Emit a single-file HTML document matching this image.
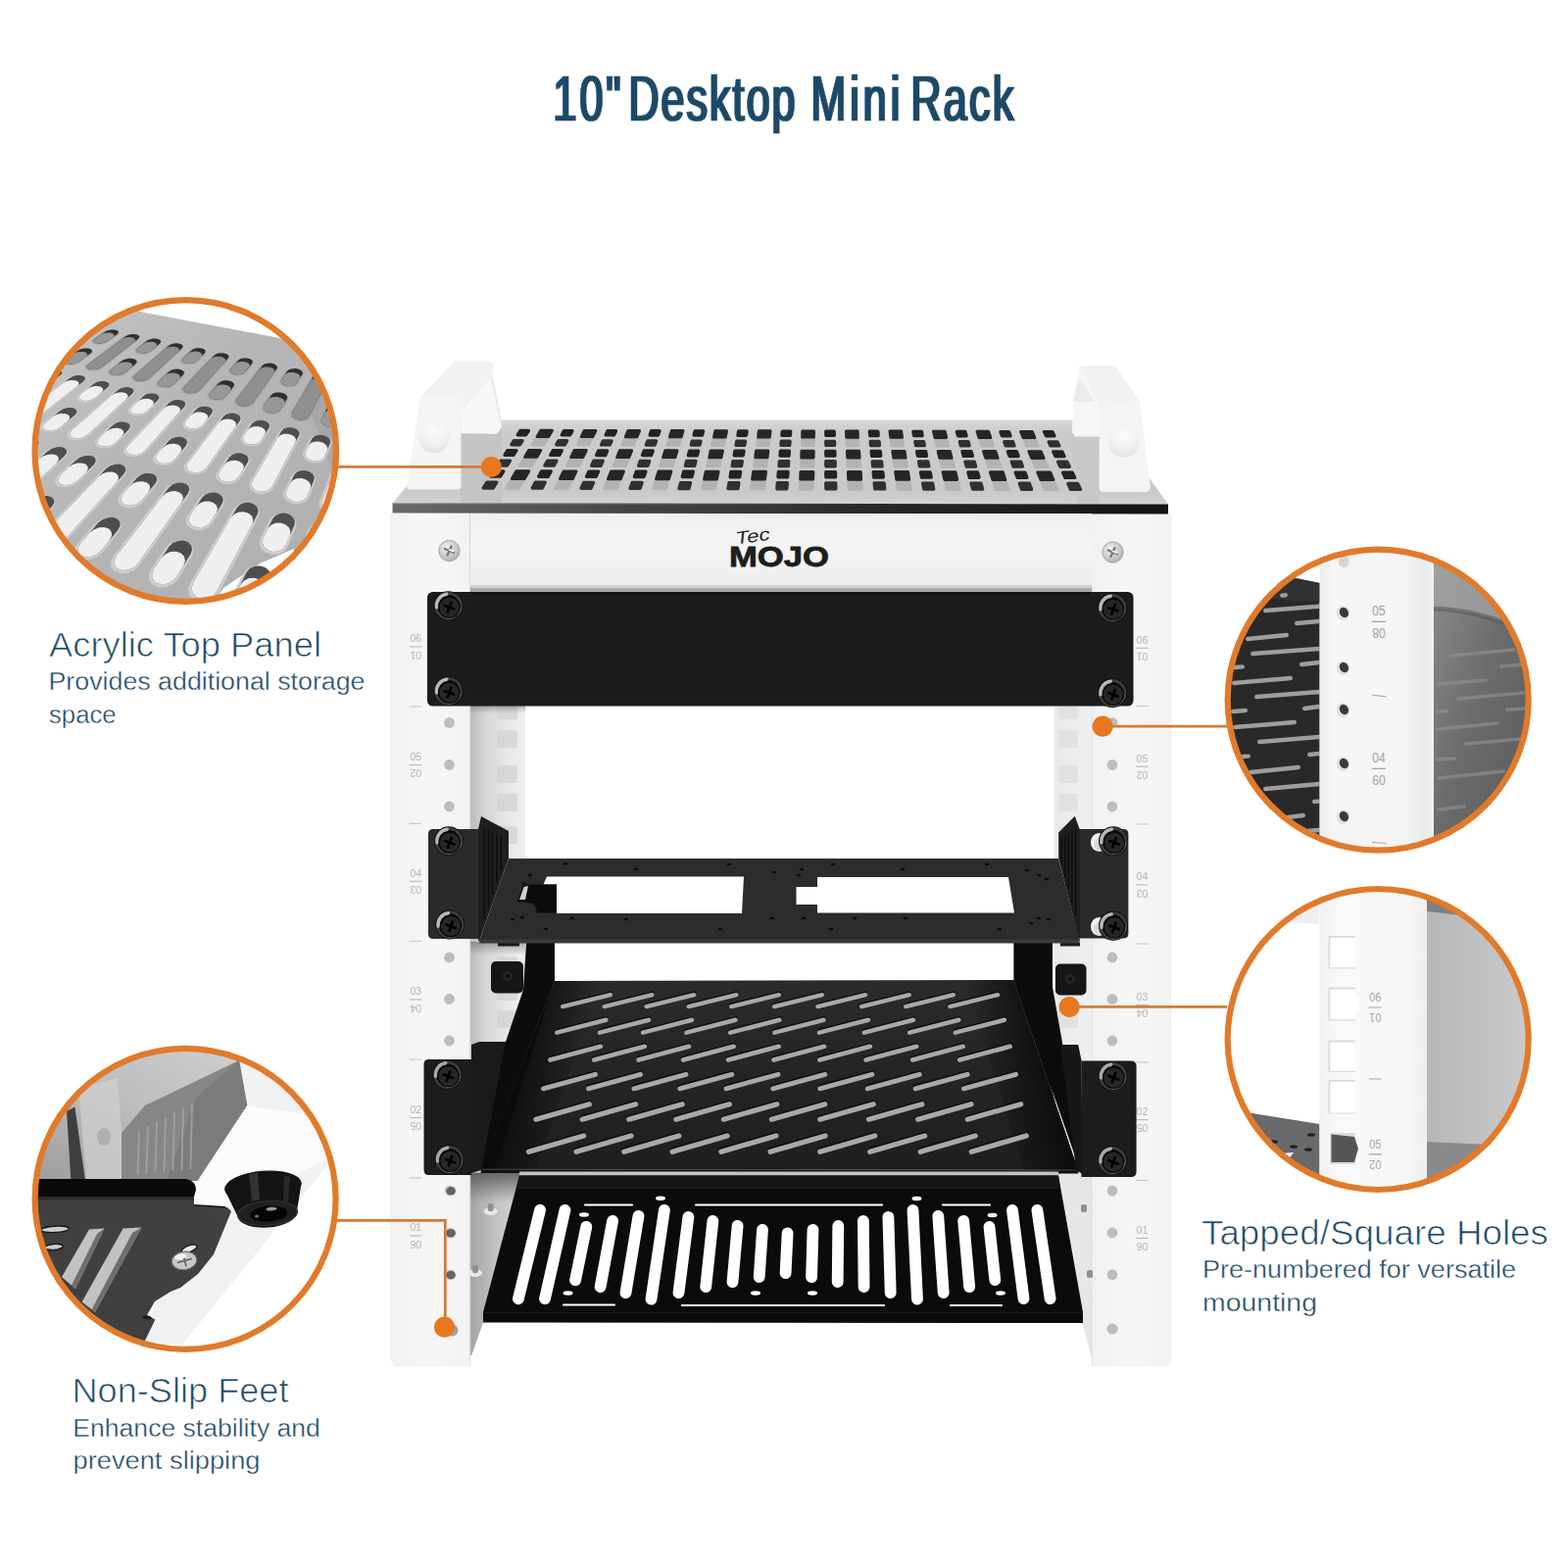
<!DOCTYPE html>
<html lang="en"><head><meta charset="utf-8"><title>10" Desktop Mini Rack</title>
<style>
html,body{margin:0;padding:0;background:#fff;}
body{width:1600px;height:1600px;overflow:hidden;font-family:"Liberation Sans",sans-serif;}
svg{display:block;}
</style></head><body>
<svg width="1600" height="1600" viewBox="0 0 1600 1600">
<rect width="1600" height="1600" fill="#ffffff"/>
<defs>
<linearGradient id="gEdge" x1="0" x2="1" y1="0" y2="0"><stop offset="0" stop-color="#6a6a6a"/><stop offset=".3" stop-color="#454545"/><stop offset=".6" stop-color="#2a2a2a"/><stop offset="1" stop-color="#141414"/></linearGradient>
<linearGradient id="gTop" x1="0" x2="0" y1="0" y2="1"><stop offset="0" stop-color="#d8d8d8"/><stop offset=".15" stop-color="#cbcbcb"/><stop offset=".85" stop-color="#c9c9c9"/><stop offset="1" stop-color="#d2d2d2"/></linearGradient>
<linearGradient id="gInL" x1="0" x2="1" y1="0" y2="0"><stop offset="0" stop-color="#b9b9b9"/><stop offset=".3" stop-color="#d6d6d6"/><stop offset=".7" stop-color="#e8e8e8"/><stop offset="1" stop-color="#efefef"/></linearGradient>
<linearGradient id="gInR" x1="0" x2="1" y1="0" y2="0"><stop offset="0" stop-color="#e9e9e9"/><stop offset="1" stop-color="#f0f0f0"/></linearGradient>
<linearGradient id="gInL2" x1="0" x2="1" y1="0" y2="0"><stop offset="0" stop-color="#a2a2a2"/><stop offset=".5" stop-color="#c4c4c4"/><stop offset="1" stop-color="#d8d8d8"/></linearGradient>
<linearGradient id="gShadeV" x1="0" x2="0" y1="0" y2="1"><stop offset="0" stop-color="#4a4a4a" stop-opacity=".75"/><stop offset="1" stop-color="#4a4a4a" stop-opacity="0"/></linearGradient>
<radialGradient id="gSilver" cx=".4" cy=".35" r=".8"><stop offset="0" stop-color="#f4f4f4"/><stop offset=".6" stop-color="#c6c6c6"/><stop offset="1" stop-color="#9a9a9a"/></radialGradient>
<radialGradient id="gDimple" cx=".5" cy=".25" r=".85"><stop offset="0" stop-color="#fbfbfb"/><stop offset=".55" stop-color="#f0f0f0"/><stop offset="1" stop-color="#dcdcdc"/></radialGradient>
<linearGradient id="gPost" x1="0" x2="1" y1="0" y2="0"><stop offset="0" stop-color="#f1f1f1"/><stop offset=".5" stop-color="#f6f6f6"/><stop offset="1" stop-color="#f2f2f2"/></linearGradient>
<linearGradient id="gLogo" x1="0" x2="0" y1="0" y2="1"><stop offset="0" stop-color="#efefef"/><stop offset=".5" stop-color="#f4f4f4"/><stop offset="1" stop-color="#ececec"/></linearGradient>
<linearGradient id="gS2" x1="0" x2="0" y1="0" y2="1"><stop offset="0" stop-color="#2b2b2b"/><stop offset="1" stop-color="#1f1f1f"/></linearGradient>
<linearGradient id="gShL" x1="0" x2="1" y1="0" y2="0"><stop offset="0" stop-color="#0a0a0a"/><stop offset="1" stop-color="#0d0d0d"/></linearGradient>
<linearGradient id="gShR" x1="0" x2="1" y1="0" y2="0"><stop offset="0" stop-color="#0d0d0d"/><stop offset="1" stop-color="#0a0a0a"/></linearGradient>
<linearGradient id="gShR2" gradientUnits="userSpaceOnUse" x1="1000" y1="1100" x2="1075" y2="1085"><stop offset="0" stop-color="#0b0b0b" stop-opacity="0"/><stop offset="1" stop-color="#0b0b0b" stop-opacity=".95"/></linearGradient>
<linearGradient id="gShL2" gradientUnits="userSpaceOnUse" x1="590" y1="1100" x2="525" y2="1085"><stop offset="0" stop-color="#0b0b0b" stop-opacity="0"/><stop offset="1" stop-color="#0b0b0b" stop-opacity=".9"/></linearGradient>
<linearGradient id="gEdgeHi" gradientUnits="userSpaceOnUse" x1="400" y1="0" x2="900" y2="0"><stop offset="0" stop-color="#a8a8a8" stop-opacity=".9"/><stop offset="1" stop-color="#a8a8a8" stop-opacity="0"/></linearGradient>
<linearGradient id="g2r" x1="0" x2="1" y1="0" y2="1"><stop offset="0" stop-color="#8f8f8f"/><stop offset=".45" stop-color="#6c6c6c"/><stop offset="1" stop-color="#565656"/></linearGradient>
<linearGradient id="g2p" x1="0" x2="1" y1="0" y2="0"><stop offset="0" stop-color="#ededed"/><stop offset=".12" stop-color="#f6f6f6"/><stop offset=".78" stop-color="#f4f4f4"/><stop offset=".9" stop-color="#e9e9e9"/><stop offset="1" stop-color="#f1f1f1"/></linearGradient>
<linearGradient id="g3p" x1="0" x2="1" y1="0" y2="0"><stop offset="0" stop-color="#f1f1f1"/><stop offset=".2" stop-color="#f9f9f9"/><stop offset=".85" stop-color="#f6f6f6"/><stop offset="1" stop-color="#eeeeee"/></linearGradient>
<linearGradient id="g3r" x1="0" x2="1" y1="0" y2="0"><stop offset="0" stop-color="#b6b6b6"/><stop offset="1" stop-color="#cdcdcd"/></linearGradient>
<linearGradient id="g4a" x1="0" x2="1" y1="1" y2="0"><stop offset="0" stop-color="#9c9c9c"/><stop offset=".5" stop-color="#bdbdbd"/><stop offset="1" stop-color="#d0d0d0"/></linearGradient>
<linearGradient id="g1p" x1="0" x2="1" y1="0" y2="1"><stop offset="0" stop-color="#c6c6c6"/><stop offset=".4" stop-color="#b6b6b6"/><stop offset="1" stop-color="#adadad"/></linearGradient>
<filter id="fxd" x="-2%" y="-10%" width="104%" height="120%"><feMorphology operator="dilate" radius="1 0"/></filter>
<clipPath id="c1"><circle cx="189.3" cy="460" r="154"/></clipPath>
<clipPath id="c2"><circle cx="1406.2" cy="714.2" r="154"/></clipPath>
<clipPath id="c3"><circle cx="1406.2" cy="1060.5" r="154"/></clipPath>
<clipPath id="c4"><circle cx="189.1" cy="1223.3" r="154"/></clipPath>
</defs>
<g font-family="'Liberation Sans', sans-serif">
<polygon points="479,524 536,524 536,1300 493,1349.5 481,1383 479,1383" fill="url(#gInL)"/>
<polygon points="1115,524 1076,524 1076,1300 1104.5,1349.5 1113,1383 1115,1383" fill="url(#gInR)"/>
<rect x="507" y="716" width="21" height="18" rx="2" fill="#d2d2d2" opacity=".75"/>
<rect x="507" y="745" width="21" height="18" rx="2" fill="#d2d2d2" opacity=".75"/>
<rect x="507" y="781" width="21" height="18" rx="2" fill="#d2d2d2" opacity=".75"/>
<rect x="507" y="810" width="21" height="18" rx="2" fill="#d2d2d2" opacity=".75"/>
<rect x="507" y="843" width="21" height="18" rx="2" fill="#d2d2d2" opacity=".75"/>
<rect x="507" y="976" width="21" height="18" rx="2" fill="#d2d2d2" opacity=".75"/>
<rect x="507" y="1003" width="21" height="18" rx="2" fill="#d2d2d2" opacity=".75"/>
<rect x="507" y="1031" width="21" height="18" rx="2" fill="#d2d2d2" opacity=".75"/>
<rect x="1080" y="716" width="20" height="18" rx="2" fill="#dfdfdf" opacity=".8"/>
<rect x="1080" y="745" width="20" height="18" rx="2" fill="#dfdfdf" opacity=".8"/>
<rect x="1080" y="781" width="20" height="18" rx="2" fill="#dfdfdf" opacity=".8"/>
<rect x="1080" y="810" width="20" height="18" rx="2" fill="#dfdfdf" opacity=".8"/>
<rect x="1080" y="843" width="20" height="18" rx="2" fill="#dfdfdf" opacity=".8"/>
<rect x="1080" y="1031" width="20" height="18" rx="2" fill="#dfdfdf" opacity=".8"/>
<polygon points="479,1196 536,1196 536,1300 493,1349.5 481,1383 479,1383" fill="url(#gInL2)"/>
<polygon points="1115,1196 1076,1196 1076,1300 1104.5,1349.5 1113,1383 1115,1383" fill="#e6e6e6"/>
<rect x="479.5" y="1197" width="57" height="30" fill="url(#gShadeV)"/>
<rect x="479.5" y="961" width="57" height="14" fill="url(#gShadeV)" opacity=".6"/>
<rect x="479.5" y="720" width="57" height="8" fill="url(#gShadeV)" opacity=".5"/>
<polygon points="398,524 479.5,524 479.5,1394.5 403,1394.5 398,1386" fill="url(#gPost)"/>
<polygon points="1114.5,524 1195.5,524 1195.5,1388 1191,1394.5 1114.5,1394.5" fill="url(#gPost)"/>
<line x1="479.7" y1="598" x2="479.7" y2="1394" stroke="#dcdcdc" stroke-width="1"/>
<line x1="1114.3" y1="598" x2="1114.3" y2="1394" stroke="#e2e2e2" stroke-width="1"/>
<circle cx="458.5" cy="737.5" r="5.4" fill="#bcbcbc"/>
<circle cx="1135" cy="737.5" r="5.4" fill="#bcbcbc"/>
<circle cx="458.5" cy="780.5" r="5.4" fill="#bcbcbc"/>
<circle cx="1135" cy="780.5" r="5.4" fill="#bcbcbc"/>
<circle cx="458.5" cy="823" r="5.4" fill="#bcbcbc"/>
<circle cx="1135" cy="823" r="5.4" fill="#bcbcbc"/>
<circle cx="458.5" cy="977" r="5.4" fill="#bcbcbc"/>
<circle cx="1135" cy="977" r="5.4" fill="#bcbcbc"/>
<circle cx="458.5" cy="1019.5" r="5.4" fill="#bcbcbc"/>
<circle cx="1135" cy="1019.5" r="5.4" fill="#bcbcbc"/>
<circle cx="458.5" cy="1062" r="5.4" fill="#bcbcbc"/>
<circle cx="1135" cy="1062" r="5.4" fill="#bcbcbc"/>
<ellipse cx="459.3" cy="1215" rx="5.9" ry="5.5" fill="#cfcfcf"/>
<ellipse cx="460" cy="1215.3" rx="4.8" ry="4.3" fill="#636363"/>
<circle cx="1135" cy="1215" r="5.4" fill="#bcbcbc"/>
<ellipse cx="459.3" cy="1258" rx="5.9" ry="5.5" fill="#cfcfcf"/>
<ellipse cx="460" cy="1258.3" rx="4.8" ry="4.3" fill="#636363"/>
<circle cx="1135" cy="1258" r="5.4" fill="#bcbcbc"/>
<ellipse cx="459.3" cy="1300.7" rx="5.9" ry="5.5" fill="#cfcfcf"/>
<ellipse cx="460" cy="1301" rx="4.8" ry="4.3" fill="#636363"/>
<circle cx="1135" cy="1300.7" r="5.4" fill="#bcbcbc"/>
<circle cx="1135" cy="1356" r="5.6" fill="#bcbcbc"/>
<circle cx="461.5" cy="1357.5" r="6" fill="#a2a2a2"/>
<line x1="417.5" y1="721" x2="430" y2="721" stroke="#c0c0c0" stroke-width="1"/>
<line x1="417.5" y1="840.4" x2="430" y2="840.4" stroke="#c0c0c0" stroke-width="1"/>
<line x1="417.5" y1="960.3" x2="430" y2="960.3" stroke="#c0c0c0" stroke-width="1"/>
<line x1="417.5" y1="1081" x2="430" y2="1081" stroke="#c0c0c0" stroke-width="1"/>
<line x1="417.5" y1="1202" x2="430" y2="1202" stroke="#c0c0c0" stroke-width="1"/>
<line x1="1159.5" y1="720.4" x2="1172" y2="720.4" stroke="#c0c0c0" stroke-width="1"/>
<line x1="1159.5" y1="841" x2="1172" y2="841" stroke="#c0c0c0" stroke-width="1"/>
<line x1="1159.5" y1="963" x2="1172" y2="963" stroke="#c0c0c0" stroke-width="1"/>
<line x1="1159.5" y1="1084" x2="1172" y2="1084" stroke="#c0c0c0" stroke-width="1"/>
<line x1="1159.5" y1="1204.5" x2="1172" y2="1204.5" stroke="#c0c0c0" stroke-width="1"/>
<text x="424.2" y="655.3" font-size="10.8" fill="#b5b5b5" text-anchor="middle" textLength="11.6" lengthAdjust="spacingAndGlyphs">06</text>
<line x1="417.9" y1="659.9" x2="430.5" y2="659.9" stroke="#b5b5b5" stroke-width="1.1"/>
<text transform="translate(424.2 664.5) rotate(180)" font-size="10.8" fill="#b5b5b5" text-anchor="middle" textLength="11.6" lengthAdjust="spacingAndGlyphs">01</text>
<text x="424.2" y="775.9" font-size="10.8" fill="#b5b5b5" text-anchor="middle" textLength="11.6" lengthAdjust="spacingAndGlyphs">05</text>
<line x1="417.9" y1="780.5" x2="430.5" y2="780.5" stroke="#b5b5b5" stroke-width="1.1"/>
<text transform="translate(424.2 785.1) rotate(180)" font-size="10.8" fill="#b5b5b5" text-anchor="middle" textLength="11.6" lengthAdjust="spacingAndGlyphs">02</text>
<text x="424.2" y="894.7" font-size="10.8" fill="#b5b5b5" text-anchor="middle" textLength="11.6" lengthAdjust="spacingAndGlyphs">04</text>
<line x1="417.9" y1="899.3" x2="430.5" y2="899.3" stroke="#b5b5b5" stroke-width="1.1"/>
<text transform="translate(424.2 903.9) rotate(180)" font-size="10.8" fill="#b5b5b5" text-anchor="middle" textLength="11.6" lengthAdjust="spacingAndGlyphs">03</text>
<text x="424.2" y="1015.4" font-size="10.8" fill="#b5b5b5" text-anchor="middle" textLength="11.6" lengthAdjust="spacingAndGlyphs">03</text>
<line x1="417.9" y1="1020" x2="430.5" y2="1020" stroke="#b5b5b5" stroke-width="1.1"/>
<text transform="translate(424.2 1024.6) rotate(180)" font-size="10.8" fill="#b5b5b5" text-anchor="middle" textLength="11.6" lengthAdjust="spacingAndGlyphs">04</text>
<text x="424.2" y="1135.9" font-size="10.8" fill="#b5b5b5" text-anchor="middle" textLength="11.6" lengthAdjust="spacingAndGlyphs">02</text>
<line x1="417.9" y1="1140.5" x2="430.5" y2="1140.5" stroke="#b5b5b5" stroke-width="1.1"/>
<text transform="translate(424.2 1145.1) rotate(180)" font-size="10.8" fill="#b5b5b5" text-anchor="middle" textLength="11.6" lengthAdjust="spacingAndGlyphs">05</text>
<text x="424.2" y="1256.4" font-size="10.8" fill="#b5b5b5" text-anchor="middle" textLength="11.6" lengthAdjust="spacingAndGlyphs">01</text>
<line x1="417.9" y1="1261" x2="430.5" y2="1261" stroke="#b5b5b5" stroke-width="1.1"/>
<text transform="translate(424.2 1265.6) rotate(180)" font-size="10.8" fill="#b5b5b5" text-anchor="middle" textLength="11.6" lengthAdjust="spacingAndGlyphs">06</text>
<text x="1165.4" y="656.7" font-size="10.8" fill="#b5b5b5" text-anchor="middle" textLength="11.6" lengthAdjust="spacingAndGlyphs">06</text>
<line x1="1159.1" y1="661.3" x2="1171.7" y2="661.3" stroke="#b5b5b5" stroke-width="1.1"/>
<text transform="translate(1165.4 665.9) rotate(180)" font-size="10.8" fill="#b5b5b5" text-anchor="middle" textLength="11.6" lengthAdjust="spacingAndGlyphs">01</text>
<text x="1165.4" y="777.6" font-size="10.8" fill="#b5b5b5" text-anchor="middle" textLength="11.6" lengthAdjust="spacingAndGlyphs">05</text>
<line x1="1159.1" y1="782.2" x2="1171.7" y2="782.2" stroke="#b5b5b5" stroke-width="1.1"/>
<text transform="translate(1165.4 786.8) rotate(180)" font-size="10.8" fill="#b5b5b5" text-anchor="middle" textLength="11.6" lengthAdjust="spacingAndGlyphs">02</text>
<text x="1165.4" y="898.3" font-size="10.8" fill="#b5b5b5" text-anchor="middle" textLength="11.6" lengthAdjust="spacingAndGlyphs">04</text>
<line x1="1159.1" y1="902.9" x2="1171.7" y2="902.9" stroke="#b5b5b5" stroke-width="1.1"/>
<text transform="translate(1165.4 907.5) rotate(180)" font-size="10.8" fill="#b5b5b5" text-anchor="middle" textLength="11.6" lengthAdjust="spacingAndGlyphs">03</text>
<text x="1165.4" y="1020.7" font-size="10.8" fill="#b5b5b5" text-anchor="middle" textLength="11.6" lengthAdjust="spacingAndGlyphs">03</text>
<line x1="1159.1" y1="1025.3" x2="1171.7" y2="1025.3" stroke="#b5b5b5" stroke-width="1.1"/>
<text transform="translate(1165.4 1029.9) rotate(180)" font-size="10.8" fill="#b5b5b5" text-anchor="middle" textLength="11.6" lengthAdjust="spacingAndGlyphs">04</text>
<text x="1165.4" y="1138" font-size="10.8" fill="#b5b5b5" text-anchor="middle" textLength="11.6" lengthAdjust="spacingAndGlyphs">02</text>
<line x1="1159.1" y1="1142.6" x2="1171.7" y2="1142.6" stroke="#b5b5b5" stroke-width="1.1"/>
<text transform="translate(1165.4 1147.2) rotate(180)" font-size="10.8" fill="#b5b5b5" text-anchor="middle" textLength="11.6" lengthAdjust="spacingAndGlyphs">05</text>
<text x="1165.4" y="1258.9" font-size="10.8" fill="#b5b5b5" text-anchor="middle" textLength="11.6" lengthAdjust="spacingAndGlyphs">01</text>
<line x1="1159.1" y1="1263.5" x2="1171.7" y2="1263.5" stroke="#b5b5b5" stroke-width="1.1"/>
<text transform="translate(1165.4 1268.1) rotate(180)" font-size="10.8" fill="#b5b5b5" text-anchor="middle" textLength="11.6" lengthAdjust="spacingAndGlyphs">06</text>
<polygon points="400.7,513.5 1192,514.5 1130,428.5 470,428.5" fill="url(#gTop)"/>
<polygon points="470.4,441 512,441 512,513 470.4,513" fill="#c4c4c4"/>
<polygon points="1094,445 1121.4,445 1121.4,514 1100,514" fill="#c8c8c8"/>
<polygon points="531,439.5 539.4,439.5 536.7,443.7 528.3,443.7" fill="#222222" stroke="#222222" stroke-width="3.4" stroke-linejoin="round"/>
<polygon points="524.4,449.7 533.1,449.7 530.6,453.7 521.9,453.7" fill="#303030" stroke="#303030" stroke-width="3.4" stroke-linejoin="round"/>
<polygon points="517.9,459.7 526.9,459.7 524,464.3 515,464.3" fill="#222222" stroke="#222222" stroke-width="3.4" stroke-linejoin="round"/>
<polygon points="511.2,470.1 520.5,470.1 517.4,475 508.1,475" fill="#303030" stroke="#303030" stroke-width="3.4" stroke-linejoin="round"/>
<polygon points="504.2,480.9 513.8,480.9 510.5,486.1 500.9,486.1" fill="#222222" stroke="#222222" stroke-width="3.4" stroke-linejoin="round"/>
<polygon points="496.9,492.1 506.8,492.1 503.1,498 493.2,498" fill="#303030" stroke="#303030" stroke-width="3.4" stroke-linejoin="round"/>
<polygon points="551.8,439.3 563.4,439.3 554.8,453.9 543.2,453.9" fill="#b2b2b2" stroke="#b2b2b2" stroke-width="3" stroke-linejoin="round"/>
<polygon points="551.8,439.3 563.4,439.3 559.8,445.5 548.2,445.5" fill="#262626" stroke="#262626" stroke-width="3" stroke-linejoin="round"/>
<polygon points="539.6,459.5 551.8,459.5 542.6,475.2 530.4,475.2" fill="#b2b2b2" stroke="#b2b2b2" stroke-width="3" stroke-linejoin="round"/>
<polygon points="539.6,459.5 551.8,459.5 547.9,466.3 535.7,466.3" fill="#262626" stroke="#262626" stroke-width="3" stroke-linejoin="round"/>
<polygon points="526.9,480.8 539.7,480.8 529.4,498.3 516.6,498.3" fill="#b2b2b2" stroke="#b2b2b2" stroke-width="3" stroke-linejoin="round"/>
<polygon points="526.9,480.8 539.7,480.8 535.2,488.4 522.4,488.4" fill="#262626" stroke="#262626" stroke-width="3" stroke-linejoin="round"/>
<polygon points="575.6,439.6 584,439.6 581.7,443.8 573.3,443.8" fill="#222222" stroke="#222222" stroke-width="3.4" stroke-linejoin="round"/>
<polygon points="569.9,449.8 578.6,449.8 576.4,453.8 567.7,453.8" fill="#303030" stroke="#303030" stroke-width="3.4" stroke-linejoin="round"/>
<polygon points="564.3,459.8 573.3,459.8 570.8,464.4 561.8,464.4" fill="#222222" stroke="#222222" stroke-width="3.4" stroke-linejoin="round"/>
<polygon points="558.6,470.2 567.9,470.2 565.2,475.1 555.9,475.1" fill="#303030" stroke="#303030" stroke-width="3.4" stroke-linejoin="round"/>
<polygon points="552.6,481 562.2,481 559.3,486.3 549.7,486.3" fill="#222222" stroke="#222222" stroke-width="3.4" stroke-linejoin="round"/>
<polygon points="546.3,492.2 556.2,492.2 553.1,498.1 543.2,498.1" fill="#303030" stroke="#303030" stroke-width="3.4" stroke-linejoin="round"/>
<polygon points="596.3,439.4 607.9,439.4 600.7,454 589.1,454" fill="#b2b2b2" stroke="#b2b2b2" stroke-width="3" stroke-linejoin="round"/>
<polygon points="596.3,439.4 607.9,439.4 604.9,445.6 593.3,445.6" fill="#262626" stroke="#262626" stroke-width="3" stroke-linejoin="round"/>
<polygon points="586,459.6 598.2,459.6 590.5,475.3 578.3,475.3" fill="#b2b2b2" stroke="#b2b2b2" stroke-width="3" stroke-linejoin="round"/>
<polygon points="586,459.6 598.2,459.6 594.9,466.4 582.7,466.4" fill="#262626" stroke="#262626" stroke-width="3" stroke-linejoin="round"/>
<polygon points="575.2,480.9 588,480.9 579.4,498.4 566.6,498.4" fill="#b2b2b2" stroke="#b2b2b2" stroke-width="3" stroke-linejoin="round"/>
<polygon points="575.2,480.9 588,480.9 584.3,488.5 571.5,488.5" fill="#262626" stroke="#262626" stroke-width="3" stroke-linejoin="round"/>
<polygon points="620.1,439.7 628.5,439.7 626.6,443.9 618.2,443.9" fill="#222222" stroke="#222222" stroke-width="3.4" stroke-linejoin="round"/>
<polygon points="615.4,449.9 624.1,449.9 622.3,453.9 613.6,453.9" fill="#303030" stroke="#303030" stroke-width="3.4" stroke-linejoin="round"/>
<polygon points="610.7,459.9 619.7,459.9 617.7,464.5 608.7,464.5" fill="#222222" stroke="#222222" stroke-width="3.4" stroke-linejoin="round"/>
<polygon points="605.9,470.3 615.2,470.3 613,475.2 603.7,475.2" fill="#303030" stroke="#303030" stroke-width="3.4" stroke-linejoin="round"/>
<polygon points="600.9,481.1 610.5,481.1 608.2,486.4 598.6,486.4" fill="#222222" stroke="#222222" stroke-width="3.4" stroke-linejoin="round"/>
<polygon points="595.7,492.4 605.6,492.4 603,498.3 593.1,498.3" fill="#303030" stroke="#303030" stroke-width="3.4" stroke-linejoin="round"/>
<polygon points="640.9,439.5 652.5,439.5 646.6,454.1 635,454.1" fill="#b2b2b2" stroke="#b2b2b2" stroke-width="3" stroke-linejoin="round"/>
<polygon points="640.9,439.5 652.5,439.5 650,445.7 638.4,445.7" fill="#262626" stroke="#262626" stroke-width="3" stroke-linejoin="round"/>
<polygon points="632.4,459.7 644.6,459.7 638.3,475.4 626.1,475.4" fill="#b2b2b2" stroke="#b2b2b2" stroke-width="3" stroke-linejoin="round"/>
<polygon points="632.4,459.7 644.6,459.7 641.9,466.5 629.7,466.5" fill="#262626" stroke="#262626" stroke-width="3" stroke-linejoin="round"/>
<polygon points="623.6,481 636.4,481 629.4,498.5 616.6,498.5" fill="#b2b2b2" stroke="#b2b2b2" stroke-width="3" stroke-linejoin="round"/>
<polygon points="623.6,481 636.4,481 633.3,488.7 620.5,488.7" fill="#262626" stroke="#262626" stroke-width="3" stroke-linejoin="round"/>
<polygon points="664.6,439.8 673,439.8 671.5,444 663.1,444" fill="#222222" stroke="#222222" stroke-width="3.4" stroke-linejoin="round"/>
<polygon points="660.9,450 669.6,450 668.1,454 659.4,454" fill="#303030" stroke="#303030" stroke-width="3.4" stroke-linejoin="round"/>
<polygon points="657.2,460 666.2,460 664.5,464.6 655.5,464.6" fill="#222222" stroke="#222222" stroke-width="3.4" stroke-linejoin="round"/>
<polygon points="653.3,470.4 662.6,470.4 660.9,475.3 651.6,475.3" fill="#303030" stroke="#303030" stroke-width="3.4" stroke-linejoin="round"/>
<polygon points="649.3,481.2 658.9,481.2 657,486.5 647.4,486.5" fill="#222222" stroke="#222222" stroke-width="3.4" stroke-linejoin="round"/>
<polygon points="645.2,492.5 655.1,492.5 653,498.4 643.1,498.4" fill="#303030" stroke="#303030" stroke-width="3.4" stroke-linejoin="round"/>
<polygon points="685.4,439.6 697,439.6 692.4,454.2 680.8,454.2" fill="#b2b2b2" stroke="#b2b2b2" stroke-width="3" stroke-linejoin="round"/>
<polygon points="685.4,439.6 697,439.6 695.1,445.8 683.5,445.8" fill="#262626" stroke="#262626" stroke-width="3" stroke-linejoin="round"/>
<polygon points="678.8,459.8 691,459.8 686.2,475.5 674,475.5" fill="#b2b2b2" stroke="#b2b2b2" stroke-width="3" stroke-linejoin="round"/>
<polygon points="678.8,459.8 691,459.8 688.9,466.6 676.7,466.6" fill="#262626" stroke="#262626" stroke-width="3" stroke-linejoin="round"/>
<polygon points="672,481.1 684.8,481.1 679.3,498.6 666.5,498.6" fill="#b2b2b2" stroke="#b2b2b2" stroke-width="3" stroke-linejoin="round"/>
<polygon points="672,481.1 684.8,481.1 682.4,488.8 669.6,488.8" fill="#262626" stroke="#262626" stroke-width="3" stroke-linejoin="round"/>
<polygon points="709.2,439.9 717.6,439.9 716.5,444.1 708.1,444.1" fill="#222222" stroke="#222222" stroke-width="3.4" stroke-linejoin="round"/>
<polygon points="706.3,450.1 715,450.1 714,454.1 705.3,454.1" fill="#303030" stroke="#303030" stroke-width="3.4" stroke-linejoin="round"/>
<polygon points="703.6,460.1 712.6,460.1 711.3,464.7 702.3,464.7" fill="#222222" stroke="#222222" stroke-width="3.4" stroke-linejoin="round"/>
<polygon points="700.7,470.5 710,470.5 708.7,475.4 699.4,475.4" fill="#303030" stroke="#303030" stroke-width="3.4" stroke-linejoin="round"/>
<polygon points="697.7,481.3 707.3,481.3 705.9,486.6 696.3,486.6" fill="#222222" stroke="#222222" stroke-width="3.4" stroke-linejoin="round"/>
<polygon points="694.6,492.6 704.5,492.6 702.9,498.5 693,498.5" fill="#303030" stroke="#303030" stroke-width="3.4" stroke-linejoin="round"/>
<polygon points="729.9,439.7 741.5,439.7 738.3,454.4 726.7,454.4" fill="#b2b2b2" stroke="#b2b2b2" stroke-width="3" stroke-linejoin="round"/>
<polygon points="729.9,439.7 741.5,439.7 740.2,445.9 728.6,445.9" fill="#262626" stroke="#262626" stroke-width="3" stroke-linejoin="round"/>
<polygon points="725.2,459.9 737.4,459.9 734,475.6 721.8,475.6" fill="#b2b2b2" stroke="#b2b2b2" stroke-width="3" stroke-linejoin="round"/>
<polygon points="725.2,459.9 737.4,459.9 736,466.7 723.8,466.7" fill="#262626" stroke="#262626" stroke-width="3" stroke-linejoin="round"/>
<polygon points="720.3,481.2 733.1,481.2 729.3,498.7 716.5,498.7" fill="#b2b2b2" stroke="#b2b2b2" stroke-width="3" stroke-linejoin="round"/>
<polygon points="720.3,481.2 733.1,481.2 731.4,488.9 718.6,488.9" fill="#262626" stroke="#262626" stroke-width="3" stroke-linejoin="round"/>
<polygon points="753.7,440 762.1,440 761.4,444.2 753,444.2" fill="#222222" stroke="#222222" stroke-width="3.4" stroke-linejoin="round"/>
<polygon points="751.8,450.2 760.5,450.2 759.8,454.2 751.1,454.2" fill="#303030" stroke="#303030" stroke-width="3.4" stroke-linejoin="round"/>
<polygon points="750,460.2 759,460.2 758.2,464.8 749.2,464.8" fill="#222222" stroke="#222222" stroke-width="3.4" stroke-linejoin="round"/>
<polygon points="748,470.6 757.3,470.6 756.5,475.5 747.2,475.5" fill="#303030" stroke="#303030" stroke-width="3.4" stroke-linejoin="round"/>
<polygon points="746,481.4 755.6,481.4 754.7,486.7 745.1,486.7" fill="#222222" stroke="#222222" stroke-width="3.4" stroke-linejoin="round"/>
<polygon points="744,492.7 753.9,492.7 752.9,498.6 743,498.6" fill="#303030" stroke="#303030" stroke-width="3.4" stroke-linejoin="round"/>
<polygon points="774.4,439.8 786,439.8 784.2,454.5 772.6,454.5" fill="#b2b2b2" stroke="#b2b2b2" stroke-width="3" stroke-linejoin="round"/>
<polygon points="774.4,439.8 786,439.8 785.3,446 773.7,446" fill="#262626" stroke="#262626" stroke-width="3" stroke-linejoin="round"/>
<polygon points="771.6,460.1 783.8,460.1 781.8,475.7 769.6,475.7" fill="#b2b2b2" stroke="#b2b2b2" stroke-width="3" stroke-linejoin="round"/>
<polygon points="771.6,460.1 783.8,460.1 783,466.8 770.8,466.8" fill="#262626" stroke="#262626" stroke-width="3" stroke-linejoin="round"/>
<polygon points="768.7,481.3 781.5,481.3 779.3,498.8 766.5,498.8" fill="#b2b2b2" stroke="#b2b2b2" stroke-width="3" stroke-linejoin="round"/>
<polygon points="768.7,481.3 781.5,481.3 780.5,489 767.7,489" fill="#262626" stroke="#262626" stroke-width="3" stroke-linejoin="round"/>
<polygon points="798.3,440.1 806.7,440.1 806.3,444.3 797.9,444.3" fill="#222222" stroke="#222222" stroke-width="3.4" stroke-linejoin="round"/>
<polygon points="797.3,450.3 806,450.3 805.7,454.3 797,454.3" fill="#303030" stroke="#303030" stroke-width="3.4" stroke-linejoin="round"/>
<polygon points="796.4,460.3 805.4,460.3 805,465 796,465" fill="#222222" stroke="#222222" stroke-width="3.4" stroke-linejoin="round"/>
<polygon points="795.4,470.7 804.7,470.7 804.3,475.6 795,475.6" fill="#303030" stroke="#303030" stroke-width="3.4" stroke-linejoin="round"/>
<polygon points="794.4,481.5 804,481.5 803.6,486.8 794,486.8" fill="#222222" stroke="#222222" stroke-width="3.4" stroke-linejoin="round"/>
<polygon points="793.4,492.8 803.3,492.8 802.8,498.7 792.9,498.7" fill="#303030" stroke="#303030" stroke-width="3.4" stroke-linejoin="round"/>
<polygon points="818.9,439.9 830.5,439.9 830.1,454.6 818.5,454.6" fill="#b2b2b2" stroke="#b2b2b2" stroke-width="3" stroke-linejoin="round"/>
<polygon points="818.9,439.9 830.5,439.9 830.3,446.1 818.7,446.1" fill="#262626" stroke="#262626" stroke-width="3" stroke-linejoin="round"/>
<polygon points="818,460.2 830.2,460.2 829.7,475.9 817.5,475.9" fill="#b2b2b2" stroke="#b2b2b2" stroke-width="3" stroke-linejoin="round"/>
<polygon points="818,460.2 830.2,460.2 830,466.9 817.8,466.9" fill="#262626" stroke="#262626" stroke-width="3" stroke-linejoin="round"/>
<polygon points="817,481.4 829.8,481.4 829.2,499 816.4,499" fill="#b2b2b2" stroke="#b2b2b2" stroke-width="3" stroke-linejoin="round"/>
<polygon points="817,481.4 829.8,481.4 829.6,489.1 816.8,489.1" fill="#262626" stroke="#262626" stroke-width="3" stroke-linejoin="round"/>
<polygon points="842.8,440.2 851.2,440.2 851.3,444.4 842.9,444.4" fill="#222222" stroke="#222222" stroke-width="3.4" stroke-linejoin="round"/>
<polygon points="842.8,450.4 851.5,450.4 851.6,454.4 842.9,454.4" fill="#303030" stroke="#303030" stroke-width="3.4" stroke-linejoin="round"/>
<polygon points="842.8,460.4 851.8,460.4 851.9,465.1 842.9,465.1" fill="#222222" stroke="#222222" stroke-width="3.4" stroke-linejoin="round"/>
<polygon points="842.8,470.8 852.1,470.8 852.2,475.7 842.9,475.7" fill="#303030" stroke="#303030" stroke-width="3.4" stroke-linejoin="round"/>
<polygon points="842.8,481.7 852.4,481.7 852.5,486.9 842.9,486.9" fill="#222222" stroke="#222222" stroke-width="3.4" stroke-linejoin="round"/>
<polygon points="842.8,492.9 852.7,492.9 852.8,498.8 842.9,498.8" fill="#303030" stroke="#303030" stroke-width="3.4" stroke-linejoin="round"/>
<polygon points="863.5,440 875.1,440 875.9,454.7 864.3,454.7" fill="#b2b2b2" stroke="#b2b2b2" stroke-width="3" stroke-linejoin="round"/>
<polygon points="863.5,440 875.1,440 875.4,446.2 863.8,446.2" fill="#262626" stroke="#262626" stroke-width="3" stroke-linejoin="round"/>
<polygon points="864.4,460.3 876.6,460.3 877.5,476 865.3,476" fill="#b2b2b2" stroke="#b2b2b2" stroke-width="3" stroke-linejoin="round"/>
<polygon points="864.4,460.3 876.6,460.3 877,467 864.8,467" fill="#262626" stroke="#262626" stroke-width="3" stroke-linejoin="round"/>
<polygon points="865.4,481.5 878.2,481.5 879.2,499.1 866.4,499.1" fill="#b2b2b2" stroke="#b2b2b2" stroke-width="3" stroke-linejoin="round"/>
<polygon points="865.4,481.5 878.2,481.5 878.6,489.2 865.8,489.2" fill="#262626" stroke="#262626" stroke-width="3" stroke-linejoin="round"/>
<polygon points="887.4,440.3 895.8,440.3 896.2,444.5 887.8,444.5" fill="#222222" stroke="#222222" stroke-width="3.4" stroke-linejoin="round"/>
<polygon points="888.3,450.5 897,450.5 897.4,454.5 888.7,454.5" fill="#303030" stroke="#303030" stroke-width="3.4" stroke-linejoin="round"/>
<polygon points="889.2,460.5 898.2,460.5 898.7,465.2 889.7,465.2" fill="#222222" stroke="#222222" stroke-width="3.4" stroke-linejoin="round"/>
<polygon points="890.2,470.9 899.5,470.9 900,475.8 890.7,475.8" fill="#303030" stroke="#303030" stroke-width="3.4" stroke-linejoin="round"/>
<polygon points="891.2,481.8 900.8,481.8 901.3,487 891.7,487" fill="#222222" stroke="#222222" stroke-width="3.4" stroke-linejoin="round"/>
<polygon points="892.2,493 902.1,493 902.7,498.9 892.8,498.9" fill="#303030" stroke="#303030" stroke-width="3.4" stroke-linejoin="round"/>
<polygon points="908,440.1 919.6,440.1 921.8,454.8 910.2,454.8" fill="#b2b2b2" stroke="#b2b2b2" stroke-width="3" stroke-linejoin="round"/>
<polygon points="908,440.1 919.6,440.1 920.5,446.3 908.9,446.3" fill="#262626" stroke="#262626" stroke-width="3" stroke-linejoin="round"/>
<polygon points="910.8,460.4 923,460.4 925.4,476.1 913.2,476.1" fill="#b2b2b2" stroke="#b2b2b2" stroke-width="3" stroke-linejoin="round"/>
<polygon points="910.8,460.4 923,460.4 924,467.1 911.8,467.1" fill="#262626" stroke="#262626" stroke-width="3" stroke-linejoin="round"/>
<polygon points="913.7,481.6 926.5,481.6 929.2,499.2 916.4,499.2" fill="#b2b2b2" stroke="#b2b2b2" stroke-width="3" stroke-linejoin="round"/>
<polygon points="913.7,481.6 926.5,481.6 927.7,489.3 914.9,489.3" fill="#262626" stroke="#262626" stroke-width="3" stroke-linejoin="round"/>
<polygon points="931.9,440.4 940.3,440.4 941.1,444.6 932.7,444.6" fill="#222222" stroke="#222222" stroke-width="3.4" stroke-linejoin="round"/>
<polygon points="933.8,450.6 942.5,450.6 943.3,454.6 934.6,454.6" fill="#303030" stroke="#303030" stroke-width="3.4" stroke-linejoin="round"/>
<polygon points="935.6,460.6 944.6,460.6 945.5,465.3 936.5,465.3" fill="#222222" stroke="#222222" stroke-width="3.4" stroke-linejoin="round"/>
<polygon points="937.5,471 946.8,471 947.8,475.9 938.5,475.9" fill="#303030" stroke="#303030" stroke-width="3.4" stroke-linejoin="round"/>
<polygon points="939.5,481.9 949.1,481.9 950.2,487.1 940.6,487.1" fill="#222222" stroke="#222222" stroke-width="3.4" stroke-linejoin="round"/>
<polygon points="941.6,493.1 951.5,493.1 952.7,499 942.8,499" fill="#303030" stroke="#303030" stroke-width="3.4" stroke-linejoin="round"/>
<polygon points="952.5,440.2 964.1,440.2 967.7,454.9 956.1,454.9" fill="#b2b2b2" stroke="#b2b2b2" stroke-width="3" stroke-linejoin="round"/>
<polygon points="952.5,440.2 964.1,440.2 965.6,446.4 954,446.4" fill="#262626" stroke="#262626" stroke-width="3" stroke-linejoin="round"/>
<polygon points="957.2,460.5 969.4,460.5 973.2,476.2 961,476.2" fill="#b2b2b2" stroke="#b2b2b2" stroke-width="3" stroke-linejoin="round"/>
<polygon points="957.2,460.5 969.4,460.5 971,467.2 958.8,467.2" fill="#262626" stroke="#262626" stroke-width="3" stroke-linejoin="round"/>
<polygon points="962.1,481.7 974.9,481.7 979.1,499.3 966.4,499.3" fill="#b2b2b2" stroke="#b2b2b2" stroke-width="3" stroke-linejoin="round"/>
<polygon points="962.1,481.7 974.9,481.7 976.7,489.4 963.9,489.4" fill="#262626" stroke="#262626" stroke-width="3" stroke-linejoin="round"/>
<polygon points="976.4,440.5 984.8,440.5 986.1,444.7 977.7,444.7" fill="#222222" stroke="#222222" stroke-width="3.4" stroke-linejoin="round"/>
<polygon points="979.3,450.7 988,450.7 989.1,454.7 980.4,454.7" fill="#303030" stroke="#303030" stroke-width="3.4" stroke-linejoin="round"/>
<polygon points="982,460.7 991,460.7 992.4,465.4 983.4,465.4" fill="#222222" stroke="#222222" stroke-width="3.4" stroke-linejoin="round"/>
<polygon points="984.9,471.1 994.2,471.1 995.6,476 986.3,476" fill="#303030" stroke="#303030" stroke-width="3.4" stroke-linejoin="round"/>
<polygon points="987.9,482 997.5,482 999,487.2 989.4,487.2" fill="#222222" stroke="#222222" stroke-width="3.4" stroke-linejoin="round"/>
<polygon points="991,493.2 1000.9,493.2 1002.6,499.1 992.7,499.1" fill="#303030" stroke="#303030" stroke-width="3.4" stroke-linejoin="round"/>
<polygon points="997,440.3 1008.6,440.3 1013.6,455 1002,455" fill="#b2b2b2" stroke="#b2b2b2" stroke-width="3" stroke-linejoin="round"/>
<polygon points="997,440.3 1008.6,440.3 1010.7,446.5 999.1,446.5" fill="#262626" stroke="#262626" stroke-width="3" stroke-linejoin="round"/>
<polygon points="1003.6,460.6 1015.8,460.6 1021,476.3 1008.8,476.3" fill="#b2b2b2" stroke="#b2b2b2" stroke-width="3" stroke-linejoin="round"/>
<polygon points="1003.6,460.6 1015.8,460.6 1018,467.3 1005.8,467.3" fill="#262626" stroke="#262626" stroke-width="3" stroke-linejoin="round"/>
<polygon points="1010.4,481.8 1023.2,481.8 1029.1,499.4 1016.3,499.4" fill="#b2b2b2" stroke="#b2b2b2" stroke-width="3" stroke-linejoin="round"/>
<polygon points="1010.4,481.8 1023.2,481.8 1025.8,489.5 1013,489.5" fill="#262626" stroke="#262626" stroke-width="3" stroke-linejoin="round"/>
<polygon points="1021,440.6 1029.4,440.6 1031,444.8 1022.6,444.8" fill="#222222" stroke="#222222" stroke-width="3.4" stroke-linejoin="round"/>
<polygon points="1024.8,450.8 1033.5,450.8 1035,454.8 1026.3,454.8" fill="#303030" stroke="#303030" stroke-width="3.4" stroke-linejoin="round"/>
<polygon points="1028.4,460.8 1037.4,460.8 1039.2,465.5 1030.2,465.5" fill="#222222" stroke="#222222" stroke-width="3.4" stroke-linejoin="round"/>
<polygon points="1032.3,471.2 1041.6,471.2 1043.4,476.1 1034.1,476.1" fill="#303030" stroke="#303030" stroke-width="3.4" stroke-linejoin="round"/>
<polygon points="1036.3,482.1 1045.9,482.1 1047.9,487.3 1038.3,487.3" fill="#222222" stroke="#222222" stroke-width="3.4" stroke-linejoin="round"/>
<polygon points="1040.4,493.3 1050.3,493.3 1052.6,499.3 1042.7,499.3" fill="#303030" stroke="#303030" stroke-width="3.4" stroke-linejoin="round"/>
<polygon points="1041.6,440.4 1053.2,440.4 1059.4,455.1 1047.8,455.1" fill="#b2b2b2" stroke="#b2b2b2" stroke-width="3" stroke-linejoin="round"/>
<polygon points="1041.6,440.4 1053.2,440.4 1055.8,446.6 1044.2,446.6" fill="#262626" stroke="#262626" stroke-width="3" stroke-linejoin="round"/>
<polygon points="1049.9,460.7 1062.1,460.7 1068.9,476.4 1056.7,476.4" fill="#b2b2b2" stroke="#b2b2b2" stroke-width="3" stroke-linejoin="round"/>
<polygon points="1049.9,460.7 1062.1,460.7 1065,467.4 1052.8,467.4" fill="#262626" stroke="#262626" stroke-width="3" stroke-linejoin="round"/>
<polygon points="1058.8,481.9 1071.6,481.9 1079.1,499.5 1066.3,499.5" fill="#b2b2b2" stroke="#b2b2b2" stroke-width="3" stroke-linejoin="round"/>
<polygon points="1058.8,481.9 1071.6,481.9 1074.9,489.6 1062.1,489.6" fill="#262626" stroke="#262626" stroke-width="3" stroke-linejoin="round"/>
<polygon points="1065.5,440.6 1073.9,440.6 1075.9,444.9 1067.5,444.9" fill="#222222" stroke="#222222" stroke-width="3.4" stroke-linejoin="round"/>
<polygon points="1070.2,450.9 1078.9,450.9 1080.8,454.9 1072.1,454.9" fill="#303030" stroke="#303030" stroke-width="3.4" stroke-linejoin="round"/>
<polygon points="1074.8,460.9 1083.8,460.9 1086,465.6 1077,465.6" fill="#222222" stroke="#222222" stroke-width="3.4" stroke-linejoin="round"/>
<polygon points="1079.6,471.3 1088.9,471.3 1091.3,476.2 1082,476.2" fill="#303030" stroke="#303030" stroke-width="3.4" stroke-linejoin="round"/>
<polygon points="1084.6,482.2 1094.2,482.2 1096.7,487.4 1087.1,487.4" fill="#222222" stroke="#222222" stroke-width="3.4" stroke-linejoin="round"/>
<polygon points="1089.8,493.5 1099.7,493.5 1102.5,499.4 1092.6,499.4" fill="#303030" stroke="#303030" stroke-width="3.4" stroke-linejoin="round"/>
<polygon points="429,405 464.2,368.5 500.8,368.5 503.6,373.5 502.5,383.7 474.4,416.4 467.6,405" fill="#f1f1f1"/>
<polygon points="474.4,416.4 502.5,383.7 507,404 512,431 512,435.5 507,442.8 470.4,442.2 470.4,417.5" fill="#f8f8f8"/>
<polygon points="502.5,383.7 507,404 512,431 512,435.5 509,428 505,405 500.5,386" fill="#e9e9e9"/>
<path d="M428.8 405 L467.6 405 L474.4 416.4 L470.4 417.5 L470.4 495 Q470.4 499.5 467 499.5 L418 499.5 Q415 499.5 415.3 496 Z" fill="#f4f4f4"/>
<circle cx="442.9" cy="446.7" r="15.5" fill="url(#gDimple)"/>
<polygon points="1101.7,373.6 1137.7,373.6 1162.5,408.5 1122,417.5 1098.4,387" fill="#f1f1f1"/>
<polygon points="1098.4,387 1101.7,373.6 1104,376 1122,417.5 1122,445.6 1097,445.6 1094,441 1095,408.5" fill="#f6f6f6"/>
<polygon points="1101,385 1117,410 1095.5,410" fill="#ebebeb"/>
<path d="M1122 417.5 L1162.5 408.5 L1173.7 496 Q1174 501.9 1170 501.9 L1126 501.9 Q1121.4 501.9 1121.4 497 Z" fill="#f4f4f4"/>
<circle cx="1146.7" cy="451.2" r="15.5" fill="url(#gDimple)"/>
<polygon points="400.5,513 1192,514.5 1192,524.5 400.5,523.5" fill="url(#gEdge)"/>
<path d="M401 513.6 L900 514.3" stroke="url(#gEdgeHi)" stroke-width="1" fill="none"/>
<rect x="480" y="524" width="634" height="74" fill="url(#gLogo)"/>
<rect x="480" y="597" width="634" height="3" fill="#d2d2d2"/>
<rect x="480" y="600" width="634" height="5" fill="#a9a9a9"/>
<text x="744" y="578" font-weight="bold" font-size="30" textLength="102" lengthAdjust="spacingAndGlyphs" fill="#1d1d1d" stroke="#1d1d1d" stroke-width=".8">MOJO</text>
<text transform="translate(751.5 555.5) rotate(-8)" font-style="italic" font-size="18" textLength="35" lengthAdjust="spacingAndGlyphs" fill="#222">Tec</text>
<circle cx="458.5" cy="562" r="11.5" fill="#e4e4e4"/>
<circle cx="458.5" cy="562" r="10.5" fill="url(#gSilver)" stroke="#a8a8a8" stroke-width="1"/>
<path d="M454 560 l9 4 M456.5 566.5 l4 -9" stroke="#777" stroke-width="2.4" stroke-linecap="round" fill="none"/>
<path d="M458.5 561 l4 1.6" stroke="#fafafa" stroke-width="1.6" stroke-linecap="round" fill="none"/>
<circle cx="1135.5" cy="563.5" r="11.5" fill="#e4e4e4"/>
<circle cx="1135.5" cy="563.5" r="10.5" fill="url(#gSilver)" stroke="#a8a8a8" stroke-width="1"/>
<path d="M1131 561.5 l9 4 M1133.5 568 l4 -9" stroke="#777" stroke-width="2.4" stroke-linecap="round" fill="none"/>
<path d="M1135.5 562.5 l4 1.6" stroke="#fafafa" stroke-width="1.6" stroke-linecap="round" fill="none"/>
<rect x="436" y="604" width="720.5" height="116.5" rx="5.5" fill="#1c1c1c"/>
<rect x="482" y="604" width="630" height="3" fill="#111"/>
<circle cx="457.5" cy="618.2" r="15" fill="#0b0b0b"/>
<circle cx="457.5" cy="618.2" r="12.8" fill="none" stroke="#3d3d3d" stroke-width="3"/>
<path d="M445.6 619.9 A12 12 0 0 1 455.8 606.3" stroke="#cfcfcf" stroke-width="3.4" fill="none" stroke-linecap="round" opacity=".85"/>
<path d="M469.9 620.4 A12.6 12.6 0 0 1 456.4 630.8" stroke="#707070" stroke-width="1.6" fill="none" stroke-linecap="round"/>
<circle cx="458.5" cy="619.8" r="10.7" fill="#272727" stroke="#080808" stroke-width="1.2"/>
<g transform="rotate(20 458.5 619.8)" stroke="#000" stroke-width="2.7" stroke-linecap="round"><line x1="453.5" y1="619.8" x2="463.5" y2="619.8"/><line x1="458.5" y1="614.8" x2="458.5" y2="624.8"/></g>
<circle cx="457.5" cy="705.2" r="15" fill="#0b0b0b"/>
<circle cx="457.5" cy="705.2" r="12.8" fill="none" stroke="#3d3d3d" stroke-width="3"/>
<path d="M445.6 706.9 A12 12 0 0 1 455.8 693.3" stroke="#cfcfcf" stroke-width="3.4" fill="none" stroke-linecap="round" opacity=".85"/>
<path d="M469.9 707.4 A12.6 12.6 0 0 1 456.4 717.8" stroke="#707070" stroke-width="1.6" fill="none" stroke-linecap="round"/>
<circle cx="458.5" cy="706.8" r="10.7" fill="#272727" stroke="#080808" stroke-width="1.2"/>
<g transform="rotate(20 458.5 706.8)" stroke="#000" stroke-width="2.7" stroke-linecap="round"><line x1="453.5" y1="706.8" x2="463.5" y2="706.8"/><line x1="458.5" y1="701.8" x2="458.5" y2="711.8"/></g>
<circle cx="1135" cy="620.2" r="15" fill="#0b0b0b"/>
<circle cx="1135" cy="620.2" r="12.8" fill="none" stroke="#3d3d3d" stroke-width="3"/>
<path d="M1123.1 621.9 A12 12 0 0 1 1133.3 608.3" stroke="#cfcfcf" stroke-width="3.4" fill="none" stroke-linecap="round" opacity=".85"/>
<path d="M1147.4 622.4 A12.6 12.6 0 0 1 1133.9 632.8" stroke="#707070" stroke-width="1.6" fill="none" stroke-linecap="round"/>
<circle cx="1136" cy="621.8" r="10.7" fill="#272727" stroke="#080808" stroke-width="1.2"/>
<g transform="rotate(20 1136 621.8)" stroke="#000" stroke-width="2.7" stroke-linecap="round"><line x1="1131" y1="621.8" x2="1141" y2="621.8"/><line x1="1136" y1="616.8" x2="1136" y2="626.8"/></g>
<circle cx="1135" cy="707.2" r="15" fill="#0b0b0b"/>
<circle cx="1135" cy="707.2" r="12.8" fill="none" stroke="#3d3d3d" stroke-width="3"/>
<path d="M1123.1 708.9 A12 12 0 0 1 1133.3 695.3" stroke="#cfcfcf" stroke-width="3.4" fill="none" stroke-linecap="round" opacity=".85"/>
<path d="M1147.4 709.4 A12.6 12.6 0 0 1 1133.9 719.8" stroke="#707070" stroke-width="1.6" fill="none" stroke-linecap="round"/>
<circle cx="1136" cy="708.8" r="10.7" fill="#272727" stroke="#080808" stroke-width="1.2"/>
<g transform="rotate(20 1136 708.8)" stroke="#000" stroke-width="2.7" stroke-linecap="round"><line x1="1131" y1="708.8" x2="1141" y2="708.8"/><line x1="1136" y1="703.8" x2="1136" y2="713.8"/></g>
<polygon points="537,962 566,962 566,1001 491,1194 489,1063 516,1063 534,1010" fill="#0c0c0c"/>
<polygon points="1034.4,962 1074,962 1074,1007 1084,1064 1102,1194 1034.4,1000" fill="#0c0c0c"/>
<rect x="508" y="962" width="22" height="3.5" fill="#1a1a1a"/>
<rect x="1082" y="962" width="20" height="3.5" fill="#1a1a1a"/>
<rect x="501" y="981" width="33" height="32.5" rx="5" fill="#161616"/>
<circle cx="518" cy="996" r="5" fill="#262626"/>
<circle cx="518" cy="996" r="2" fill="#0b0b0b"/>
<rect x="1077" y="983.5" width="31.5" height="32" rx="5" fill="#161616"/>
<circle cx="1092" cy="999" r="5" fill="#262626"/>
<circle cx="1092" cy="999" r="2" fill="#0b0b0b"/>
<path d="M442 846 L488 846 L488 958 L442 958 Q437 958 437 953 L437 851 Q437 846 442 846Z" fill="#2a2a2a"/>
<path d="M1101 846 L1146.5 846 Q1151.4 846 1151.4 851 L1151.4 952.5 Q1151.4 957.5 1146.5 957.5 L1101 957.5Z" fill="#2a2a2a"/>
<polygon points="488,846 491,833 519,848 519,876 489,960 488,960" fill="#1f1f1f"/>
<polygon points="1101.6,846 1096.8,832.8 1080.2,849.4 1080.2,876 1101,960 1101.6,960" fill="#1f1f1f"/>
<line x1="494" y1="844" x2="494" y2="938" stroke="#0d0d0d" stroke-width="1.6"/>
<line x1="1097.5" y1="846" x2="1097.5" y2="934" stroke="#0d0d0d" stroke-width="1.4"/>
<line x1="498.3" y1="846.2" x2="498.3" y2="925.5" stroke="#0d0d0d" stroke-width="1.6"/>
<line x1="1093.9" y1="848.2" x2="1093.9" y2="921" stroke="#0d0d0d" stroke-width="1.4"/>
<line x1="502.6" y1="848.4" x2="502.6" y2="913" stroke="#0d0d0d" stroke-width="1.6"/>
<line x1="1090.3" y1="850.4" x2="1090.3" y2="908" stroke="#0d0d0d" stroke-width="1.4"/>
<line x1="506.9" y1="850.6" x2="506.9" y2="900.5" stroke="#0d0d0d" stroke-width="1.6"/>
<line x1="1086.7" y1="852.6" x2="1086.7" y2="895" stroke="#0d0d0d" stroke-width="1.4"/>
<line x1="511.2" y1="852.8" x2="511.2" y2="888" stroke="#0d0d0d" stroke-width="1.6"/>
<line x1="1083.1" y1="854.8" x2="1083.1" y2="882" stroke="#0d0d0d" stroke-width="1.4"/>
<polygon points="519,876 1080,876 1101.5,960.5 489,960.5" fill="#2c2c2c"/>
<polygon points="489.5,958.5 1101.5,958.5 1101.5,962.5 489,962.5" fill="#3b3b3b"/>
<line x1="519" y1="876.5" x2="1080" y2="876.5" stroke="#3a3a3a" stroke-width="1"/>
<polygon points="558,894.4 759,894.4 757,932 568,932 568,902.4 554.5,902.4" fill="#ffffff"/>
<polygon points="528,920 533,904 540,902.4 568,902.4 568,931.6 548,931.6 546,924 542,921.5" fill="#0b0b0b"/>
<polygon points="530,918 534.5,905 539,904 536,918" fill="#cfcfcf"/>
<polygon points="834,895 1029,895 1035,931.5 834,931.5 834,923 812.5,923 812.5,905 834,905" fill="#ffffff"/>
<ellipse cx="577" cy="881.5" rx="2.4" ry="1.3" fill="#0b0b0b"/>
<ellipse cx="649" cy="887" rx="2.4" ry="1.3" fill="#0b0b0b"/>
<ellipse cx="744" cy="882" rx="2.4" ry="1.3" fill="#0b0b0b"/>
<ellipse cx="850" cy="882" rx="2.4" ry="1.3" fill="#0b0b0b"/>
<ellipse cx="921" cy="887" rx="2.4" ry="1.3" fill="#0b0b0b"/>
<ellipse cx="1007" cy="882" rx="2.4" ry="1.3" fill="#0b0b0b"/>
<ellipse cx="1048" cy="888" rx="2.4" ry="1.3" fill="#0b0b0b"/>
<ellipse cx="541" cy="893" rx="2.4" ry="1.3" fill="#0b0b0b"/>
<ellipse cx="535" cy="902" rx="2.4" ry="1.3" fill="#0b0b0b"/>
<ellipse cx="1060" cy="893" rx="2.4" ry="1.3" fill="#0b0b0b"/>
<ellipse cx="1068" cy="897" rx="2.4" ry="1.3" fill="#0b0b0b"/>
<ellipse cx="523" cy="938" rx="2.4" ry="1.3" fill="#0b0b0b"/>
<ellipse cx="533" cy="936" rx="2.4" ry="1.3" fill="#0b0b0b"/>
<ellipse cx="584" cy="937" rx="2.4" ry="1.3" fill="#0b0b0b"/>
<ellipse cx="639" cy="938" rx="2.4" ry="1.3" fill="#0b0b0b"/>
<ellipse cx="788" cy="937" rx="2.4" ry="1.3" fill="#0b0b0b"/>
<ellipse cx="820" cy="937" rx="2.4" ry="1.3" fill="#0b0b0b"/>
<ellipse cx="872" cy="937" rx="2.4" ry="1.3" fill="#0b0b0b"/>
<ellipse cx="924" cy="937" rx="2.4" ry="1.3" fill="#0b0b0b"/>
<ellipse cx="1060" cy="937" rx="2.4" ry="1.3" fill="#0b0b0b"/>
<ellipse cx="1070" cy="938" rx="2.4" ry="1.3" fill="#0b0b0b"/>
<ellipse cx="557" cy="948" rx="2.4" ry="1.3" fill="#0b0b0b"/>
<ellipse cx="735" cy="948" rx="2.4" ry="1.3" fill="#0b0b0b"/>
<ellipse cx="848" cy="948" rx="2.4" ry="1.3" fill="#0b0b0b"/>
<ellipse cx="1020" cy="948" rx="2.4" ry="1.3" fill="#0b0b0b"/>
<ellipse cx="1052" cy="942" rx="2.4" ry="1.3" fill="#0b0b0b"/>
<ellipse cx="790" cy="890" rx="2.4" ry="1.3" fill="#0b0b0b"/>
<ellipse cx="815" cy="893" rx="2.4" ry="1.3" fill="#0b0b0b"/>
<ellipse cx="818" cy="887" rx="2.4" ry="1.3" fill="#0b0b0b"/>
<ellipse cx="1121.5" cy="859.5" rx="8.5" ry="9.5" fill="#f2f2f2"/>
<ellipse cx="1123" cy="861.5" rx="7" ry="7" fill="#d9d9d9"/>
<ellipse cx="1121.5" cy="945.5" rx="8.5" ry="9.5" fill="#f2f2f2"/>
<ellipse cx="1123" cy="947.5" rx="7" ry="7" fill="#d9d9d9"/>
<circle cx="457.9" cy="858.2" r="15" fill="#0b0b0b"/>
<circle cx="457.9" cy="858.2" r="12.8" fill="none" stroke="#3d3d3d" stroke-width="3"/>
<path d="M446 859.9 A12 12 0 0 1 456.2 846.3" stroke="#cfcfcf" stroke-width="3.4" fill="none" stroke-linecap="round" opacity=".85"/>
<path d="M470.3 860.4 A12.6 12.6 0 0 1 456.8 870.8" stroke="#707070" stroke-width="1.6" fill="none" stroke-linecap="round"/>
<circle cx="458.9" cy="859.8" r="10.7" fill="#272727" stroke="#080808" stroke-width="1.2"/>
<g transform="rotate(20 458.9 859.8)" stroke="#000" stroke-width="2.7" stroke-linecap="round"><line x1="453.9" y1="859.8" x2="463.9" y2="859.8"/><line x1="458.9" y1="854.8" x2="458.9" y2="864.8"/></g>
<circle cx="459.1" cy="943.6" r="15" fill="#0b0b0b"/>
<circle cx="459.1" cy="943.6" r="12.8" fill="none" stroke="#3d3d3d" stroke-width="3"/>
<path d="M447.2 945.3 A12 12 0 0 1 457.4 931.7" stroke="#cfcfcf" stroke-width="3.4" fill="none" stroke-linecap="round" opacity=".85"/>
<path d="M471.5 945.8 A12.6 12.6 0 0 1 458 956.2" stroke="#707070" stroke-width="1.6" fill="none" stroke-linecap="round"/>
<circle cx="460.1" cy="945.2" r="10.7" fill="#272727" stroke="#080808" stroke-width="1.2"/>
<g transform="rotate(20 460.1 945.2)" stroke="#000" stroke-width="2.7" stroke-linecap="round"><line x1="455.1" y1="945.2" x2="465.1" y2="945.2"/><line x1="460.1" y1="940.2" x2="460.1" y2="950.2"/></g>
<circle cx="1136" cy="858.2" r="15" fill="#0b0b0b"/>
<circle cx="1136" cy="858.2" r="12.8" fill="none" stroke="#3d3d3d" stroke-width="3"/>
<path d="M1124.1 859.9 A12 12 0 0 1 1134.3 846.3" stroke="#cfcfcf" stroke-width="3.4" fill="none" stroke-linecap="round" opacity=".85"/>
<path d="M1148.4 860.4 A12.6 12.6 0 0 1 1134.9 870.8" stroke="#707070" stroke-width="1.6" fill="none" stroke-linecap="round"/>
<circle cx="1137" cy="859.8" r="10.7" fill="#272727" stroke="#080808" stroke-width="1.2"/>
<g transform="rotate(20 1137 859.8)" stroke="#000" stroke-width="2.7" stroke-linecap="round"><line x1="1132" y1="859.8" x2="1142" y2="859.8"/><line x1="1137" y1="854.8" x2="1137" y2="864.8"/></g>
<circle cx="1136" cy="944.8" r="15" fill="#0b0b0b"/>
<circle cx="1136" cy="944.8" r="12.8" fill="none" stroke="#3d3d3d" stroke-width="3"/>
<path d="M1124.1 946.5 A12 12 0 0 1 1134.3 932.9" stroke="#cfcfcf" stroke-width="3.4" fill="none" stroke-linecap="round" opacity=".85"/>
<path d="M1148.4 947 A12.6 12.6 0 0 1 1134.9 957.4" stroke="#707070" stroke-width="1.6" fill="none" stroke-linecap="round"/>
<circle cx="1137" cy="946.4" r="10.7" fill="#272727" stroke="#080808" stroke-width="1.2"/>
<g transform="rotate(20 1137 946.4)" stroke="#000" stroke-width="2.7" stroke-linecap="round"><line x1="1132" y1="946.4" x2="1142" y2="946.4"/><line x1="1137" y1="941.4" x2="1137" y2="951.4"/></g>
<polygon points="566,1001 1034.4,1000 1100,1194 491,1193" fill="url(#gS2)"/>
<polygon points="566,1001 546,1063 505,1193 491,1193" fill="url(#gShL)"/>
<polygon points="1034.4,1000 1061,1064 1095,1194 1100,1194" fill="url(#gShR)"/>
<polygon points="1034.4,1000 985,1000 1045,1194 1100,1194" fill="url(#gShR2)"/>
<polygon points="566,1001 612,1001 548,1193 491,1193" fill="url(#gShL2)"/>
<polygon points="491,1193 1100,1194 1100.5,1197.5 490.5,1197" fill="#111"/>
<line x1="492" y1="1193.2" x2="1099" y2="1194" stroke="#4a4a4a" stroke-width="1"/>
<path d="M437.5 1081 L481 1081 L481 1199 L437.5 1199 Q432.5 1199 432.5 1194 L432.5 1086 Q432.5 1081 437.5 1081Z" fill="#1d1d1d"/>
<path d="M1103.5 1082.4 L1154 1082.4 Q1159.6 1082.4 1159.6 1088 L1159.6 1195.5 Q1159.6 1201 1154 1201 L1103.5 1201Z" fill="#1d1d1d"/>
<polygon points="481,1066 489,1063 516,1063 491,1194 481,1197" fill="#1a1a1a"/>
<polygon points="1080.7,1066 1100.2,1066 1103.5,1082 1104.5,1198 1098,1194 1082,1064" fill="#171717"/>
<line x1="574.1" y1="1025.5" x2="622.9" y2="1013.8" stroke="#0e0e0e" stroke-width="4.3" stroke-linecap="round"/>
<line x1="574.1" y1="1027.1" x2="622.9" y2="1015.1" stroke="#a9a9a9" stroke-width="4.3" stroke-linecap="round"/>
<line x1="616.6" y1="1025.5" x2="665.3" y2="1013.8" stroke="#0e0e0e" stroke-width="4.3" stroke-linecap="round"/>
<line x1="616.6" y1="1027.1" x2="665.3" y2="1015.1" stroke="#a9a9a9" stroke-width="4.3" stroke-linecap="round"/>
<line x1="659.5" y1="1025.5" x2="708.2" y2="1013.8" stroke="#0e0e0e" stroke-width="4.3" stroke-linecap="round"/>
<line x1="659.5" y1="1027.1" x2="708.2" y2="1015.1" stroke="#a9a9a9" stroke-width="4.3" stroke-linecap="round"/>
<line x1="702.7" y1="1025.5" x2="751.4" y2="1013.8" stroke="#0e0e0e" stroke-width="4.3" stroke-linecap="round"/>
<line x1="702.7" y1="1027.1" x2="751.4" y2="1015.1" stroke="#a9a9a9" stroke-width="4.3" stroke-linecap="round"/>
<line x1="746.2" y1="1025.5" x2="794.9" y2="1013.8" stroke="#0e0e0e" stroke-width="4.3" stroke-linecap="round"/>
<line x1="746.2" y1="1027.1" x2="794.9" y2="1015.1" stroke="#a9a9a9" stroke-width="4.3" stroke-linecap="round"/>
<line x1="790.1" y1="1025.5" x2="838.9" y2="1013.8" stroke="#0e0e0e" stroke-width="4.3" stroke-linecap="round"/>
<line x1="790.1" y1="1027.1" x2="838.9" y2="1015.1" stroke="#a9a9a9" stroke-width="4.3" stroke-linecap="round"/>
<line x1="834.4" y1="1025.5" x2="883.1" y2="1013.8" stroke="#0e0e0e" stroke-width="4.3" stroke-linecap="round"/>
<line x1="834.4" y1="1027.1" x2="883.1" y2="1015.1" stroke="#a9a9a9" stroke-width="4.3" stroke-linecap="round"/>
<line x1="879.1" y1="1025.5" x2="927.8" y2="1013.8" stroke="#0e0e0e" stroke-width="4.3" stroke-linecap="round"/>
<line x1="879.1" y1="1027.1" x2="927.8" y2="1015.1" stroke="#a9a9a9" stroke-width="4.3" stroke-linecap="round"/>
<line x1="924.1" y1="1025.5" x2="972.8" y2="1013.8" stroke="#0e0e0e" stroke-width="4.3" stroke-linecap="round"/>
<line x1="924.1" y1="1027.1" x2="972.8" y2="1015.1" stroke="#a9a9a9" stroke-width="4.3" stroke-linecap="round"/>
<line x1="969.4" y1="1025.5" x2="1018.1" y2="1013.8" stroke="#0e0e0e" stroke-width="4.3" stroke-linecap="round"/>
<line x1="969.4" y1="1027.1" x2="1018.1" y2="1015.1" stroke="#a9a9a9" stroke-width="4.3" stroke-linecap="round"/>
<line x1="568.2" y1="1052" x2="618.4" y2="1039.4" stroke="#0e0e0e" stroke-width="4.5" stroke-linecap="round"/>
<line x1="568.2" y1="1053.6" x2="618.4" y2="1040.8" stroke="#a9a9a9" stroke-width="4.5" stroke-linecap="round"/>
<line x1="611.9" y1="1052" x2="662.1" y2="1039.4" stroke="#0e0e0e" stroke-width="4.5" stroke-linecap="round"/>
<line x1="611.9" y1="1053.6" x2="662.1" y2="1040.8" stroke="#a9a9a9" stroke-width="4.5" stroke-linecap="round"/>
<line x1="656" y1="1052" x2="706.1" y2="1039.4" stroke="#0e0e0e" stroke-width="4.5" stroke-linecap="round"/>
<line x1="656" y1="1053.6" x2="706.1" y2="1040.8" stroke="#a9a9a9" stroke-width="4.5" stroke-linecap="round"/>
<line x1="700.4" y1="1052" x2="750.5" y2="1039.4" stroke="#0e0e0e" stroke-width="4.5" stroke-linecap="round"/>
<line x1="700.4" y1="1053.6" x2="750.5" y2="1040.8" stroke="#a9a9a9" stroke-width="4.5" stroke-linecap="round"/>
<line x1="745.2" y1="1052" x2="795.3" y2="1039.4" stroke="#0e0e0e" stroke-width="4.5" stroke-linecap="round"/>
<line x1="745.2" y1="1053.6" x2="795.3" y2="1040.8" stroke="#a9a9a9" stroke-width="4.5" stroke-linecap="round"/>
<line x1="790.4" y1="1052" x2="840.5" y2="1039.4" stroke="#0e0e0e" stroke-width="4.5" stroke-linecap="round"/>
<line x1="790.4" y1="1053.6" x2="840.5" y2="1040.8" stroke="#a9a9a9" stroke-width="4.5" stroke-linecap="round"/>
<line x1="835.9" y1="1052" x2="886" y2="1039.4" stroke="#0e0e0e" stroke-width="4.5" stroke-linecap="round"/>
<line x1="835.9" y1="1053.6" x2="886" y2="1040.8" stroke="#a9a9a9" stroke-width="4.5" stroke-linecap="round"/>
<line x1="881.8" y1="1052" x2="932" y2="1039.4" stroke="#0e0e0e" stroke-width="4.5" stroke-linecap="round"/>
<line x1="881.8" y1="1053.6" x2="932" y2="1040.8" stroke="#a9a9a9" stroke-width="4.5" stroke-linecap="round"/>
<line x1="928.1" y1="1052" x2="978.3" y2="1039.4" stroke="#0e0e0e" stroke-width="4.5" stroke-linecap="round"/>
<line x1="928.1" y1="1053.6" x2="978.3" y2="1040.8" stroke="#a9a9a9" stroke-width="4.5" stroke-linecap="round"/>
<line x1="974.8" y1="1052" x2="1024.9" y2="1039.4" stroke="#0e0e0e" stroke-width="4.5" stroke-linecap="round"/>
<line x1="974.8" y1="1053.6" x2="1024.9" y2="1040.8" stroke="#a9a9a9" stroke-width="4.5" stroke-linecap="round"/>
<line x1="561.4" y1="1080" x2="612.9" y2="1066.4" stroke="#0e0e0e" stroke-width="4.7" stroke-linecap="round"/>
<line x1="561.4" y1="1081.5" x2="612.9" y2="1067.8" stroke="#a9a9a9" stroke-width="4.7" stroke-linecap="round"/>
<line x1="606.2" y1="1080" x2="657.8" y2="1066.4" stroke="#0e0e0e" stroke-width="4.7" stroke-linecap="round"/>
<line x1="606.2" y1="1081.5" x2="657.8" y2="1067.8" stroke="#a9a9a9" stroke-width="4.7" stroke-linecap="round"/>
<line x1="651.5" y1="1080" x2="703" y2="1066.4" stroke="#0e0e0e" stroke-width="4.7" stroke-linecap="round"/>
<line x1="651.5" y1="1081.5" x2="703" y2="1067.8" stroke="#a9a9a9" stroke-width="4.7" stroke-linecap="round"/>
<line x1="697.1" y1="1080" x2="748.7" y2="1066.4" stroke="#0e0e0e" stroke-width="4.7" stroke-linecap="round"/>
<line x1="697.1" y1="1081.5" x2="748.7" y2="1067.8" stroke="#a9a9a9" stroke-width="4.7" stroke-linecap="round"/>
<line x1="743.1" y1="1080" x2="794.7" y2="1066.4" stroke="#0e0e0e" stroke-width="4.7" stroke-linecap="round"/>
<line x1="743.1" y1="1081.5" x2="794.7" y2="1067.8" stroke="#a9a9a9" stroke-width="4.7" stroke-linecap="round"/>
<line x1="789.5" y1="1080" x2="841.1" y2="1066.4" stroke="#0e0e0e" stroke-width="4.7" stroke-linecap="round"/>
<line x1="789.5" y1="1081.5" x2="841.1" y2="1067.8" stroke="#a9a9a9" stroke-width="4.7" stroke-linecap="round"/>
<line x1="836.4" y1="1080" x2="887.9" y2="1066.4" stroke="#0e0e0e" stroke-width="4.7" stroke-linecap="round"/>
<line x1="836.4" y1="1081.5" x2="887.9" y2="1067.8" stroke="#a9a9a9" stroke-width="4.7" stroke-linecap="round"/>
<line x1="883.6" y1="1080" x2="935.2" y2="1066.4" stroke="#0e0e0e" stroke-width="4.7" stroke-linecap="round"/>
<line x1="883.6" y1="1081.5" x2="935.2" y2="1067.8" stroke="#a9a9a9" stroke-width="4.7" stroke-linecap="round"/>
<line x1="931.2" y1="1080" x2="982.8" y2="1066.4" stroke="#0e0e0e" stroke-width="4.7" stroke-linecap="round"/>
<line x1="931.2" y1="1081.5" x2="982.8" y2="1067.8" stroke="#a9a9a9" stroke-width="4.7" stroke-linecap="round"/>
<line x1="979.2" y1="1080" x2="1030.7" y2="1066.4" stroke="#0e0e0e" stroke-width="4.7" stroke-linecap="round"/>
<line x1="979.2" y1="1081.5" x2="1030.7" y2="1067.8" stroke="#a9a9a9" stroke-width="4.7" stroke-linecap="round"/>
<line x1="554.5" y1="1109.2" x2="607.5" y2="1094.9" stroke="#0e0e0e" stroke-width="4.9" stroke-linecap="round"/>
<line x1="554.5" y1="1110.8" x2="607.5" y2="1096.3" stroke="#a9a9a9" stroke-width="4.9" stroke-linecap="round"/>
<line x1="600.5" y1="1109.2" x2="653.5" y2="1094.9" stroke="#0e0e0e" stroke-width="4.9" stroke-linecap="round"/>
<line x1="600.5" y1="1110.8" x2="653.5" y2="1096.3" stroke="#a9a9a9" stroke-width="4.9" stroke-linecap="round"/>
<line x1="646.9" y1="1109.2" x2="700" y2="1094.9" stroke="#0e0e0e" stroke-width="4.9" stroke-linecap="round"/>
<line x1="646.9" y1="1110.8" x2="700" y2="1096.3" stroke="#a9a9a9" stroke-width="4.9" stroke-linecap="round"/>
<line x1="693.8" y1="1109.2" x2="746.8" y2="1094.9" stroke="#0e0e0e" stroke-width="4.9" stroke-linecap="round"/>
<line x1="693.8" y1="1110.8" x2="746.8" y2="1096.3" stroke="#a9a9a9" stroke-width="4.9" stroke-linecap="round"/>
<line x1="741.1" y1="1109.2" x2="794.1" y2="1094.9" stroke="#0e0e0e" stroke-width="4.9" stroke-linecap="round"/>
<line x1="741.1" y1="1110.8" x2="794.1" y2="1096.3" stroke="#a9a9a9" stroke-width="4.9" stroke-linecap="round"/>
<line x1="788.8" y1="1109.2" x2="841.8" y2="1094.9" stroke="#0e0e0e" stroke-width="4.9" stroke-linecap="round"/>
<line x1="788.8" y1="1110.8" x2="841.8" y2="1096.3" stroke="#a9a9a9" stroke-width="4.9" stroke-linecap="round"/>
<line x1="836.8" y1="1109.2" x2="889.9" y2="1094.9" stroke="#0e0e0e" stroke-width="4.9" stroke-linecap="round"/>
<line x1="836.8" y1="1110.8" x2="889.9" y2="1096.3" stroke="#a9a9a9" stroke-width="4.9" stroke-linecap="round"/>
<line x1="885.3" y1="1109.2" x2="938.3" y2="1094.9" stroke="#0e0e0e" stroke-width="4.9" stroke-linecap="round"/>
<line x1="885.3" y1="1110.8" x2="938.3" y2="1096.3" stroke="#a9a9a9" stroke-width="4.9" stroke-linecap="round"/>
<line x1="934.2" y1="1109.2" x2="987.2" y2="1094.9" stroke="#0e0e0e" stroke-width="4.9" stroke-linecap="round"/>
<line x1="934.2" y1="1110.8" x2="987.2" y2="1096.3" stroke="#a9a9a9" stroke-width="4.9" stroke-linecap="round"/>
<line x1="983.5" y1="1109.2" x2="1036.6" y2="1094.9" stroke="#0e0e0e" stroke-width="4.9" stroke-linecap="round"/>
<line x1="983.5" y1="1110.8" x2="1036.6" y2="1096.3" stroke="#a9a9a9" stroke-width="4.9" stroke-linecap="round"/>
<line x1="546.9" y1="1140.6" x2="601.4" y2="1125.3" stroke="#0e0e0e" stroke-width="5.1" stroke-linecap="round"/>
<line x1="546.9" y1="1142.2" x2="601.4" y2="1126.7" stroke="#a9a9a9" stroke-width="5.1" stroke-linecap="round"/>
<line x1="594.2" y1="1140.6" x2="648.6" y2="1125.3" stroke="#0e0e0e" stroke-width="5.1" stroke-linecap="round"/>
<line x1="594.2" y1="1142.2" x2="648.6" y2="1126.7" stroke="#a9a9a9" stroke-width="5.1" stroke-linecap="round"/>
<line x1="641.8" y1="1140.6" x2="696.3" y2="1125.3" stroke="#0e0e0e" stroke-width="5.1" stroke-linecap="round"/>
<line x1="641.8" y1="1142.2" x2="696.3" y2="1126.7" stroke="#a9a9a9" stroke-width="5.1" stroke-linecap="round"/>
<line x1="689.9" y1="1140.6" x2="744.4" y2="1125.3" stroke="#0e0e0e" stroke-width="5.1" stroke-linecap="round"/>
<line x1="689.9" y1="1142.2" x2="744.4" y2="1126.7" stroke="#a9a9a9" stroke-width="5.1" stroke-linecap="round"/>
<line x1="738.4" y1="1140.6" x2="792.9" y2="1125.3" stroke="#0e0e0e" stroke-width="5.1" stroke-linecap="round"/>
<line x1="738.4" y1="1142.2" x2="792.9" y2="1126.7" stroke="#a9a9a9" stroke-width="5.1" stroke-linecap="round"/>
<line x1="787.3" y1="1140.6" x2="841.8" y2="1125.3" stroke="#0e0e0e" stroke-width="5.1" stroke-linecap="round"/>
<line x1="787.3" y1="1142.2" x2="841.8" y2="1126.7" stroke="#a9a9a9" stroke-width="5.1" stroke-linecap="round"/>
<line x1="836.7" y1="1140.6" x2="891.2" y2="1125.3" stroke="#0e0e0e" stroke-width="5.1" stroke-linecap="round"/>
<line x1="836.7" y1="1142.2" x2="891.2" y2="1126.7" stroke="#a9a9a9" stroke-width="5.1" stroke-linecap="round"/>
<line x1="886.5" y1="1140.6" x2="940.9" y2="1125.3" stroke="#0e0e0e" stroke-width="5.1" stroke-linecap="round"/>
<line x1="886.5" y1="1142.2" x2="940.9" y2="1126.7" stroke="#a9a9a9" stroke-width="5.1" stroke-linecap="round"/>
<line x1="936.7" y1="1140.6" x2="991.1" y2="1125.3" stroke="#0e0e0e" stroke-width="5.1" stroke-linecap="round"/>
<line x1="936.7" y1="1142.2" x2="991.1" y2="1126.7" stroke="#a9a9a9" stroke-width="5.1" stroke-linecap="round"/>
<line x1="987.3" y1="1140.6" x2="1041.8" y2="1125.3" stroke="#0e0e0e" stroke-width="5.1" stroke-linecap="round"/>
<line x1="987.3" y1="1142.2" x2="1041.8" y2="1126.7" stroke="#a9a9a9" stroke-width="5.1" stroke-linecap="round"/>
<line x1="539.6" y1="1173.6" x2="595.6" y2="1157.5" stroke="#0e0e0e" stroke-width="5.3" stroke-linecap="round"/>
<line x1="539.6" y1="1175.2" x2="595.6" y2="1159" stroke="#a9a9a9" stroke-width="5.3" stroke-linecap="round"/>
<line x1="588.1" y1="1173.6" x2="644" y2="1157.5" stroke="#0e0e0e" stroke-width="5.3" stroke-linecap="round"/>
<line x1="588.1" y1="1175.2" x2="644" y2="1159" stroke="#a9a9a9" stroke-width="5.3" stroke-linecap="round"/>
<line x1="636.9" y1="1173.6" x2="692.8" y2="1157.5" stroke="#0e0e0e" stroke-width="5.3" stroke-linecap="round"/>
<line x1="636.9" y1="1175.2" x2="692.8" y2="1159" stroke="#a9a9a9" stroke-width="5.3" stroke-linecap="round"/>
<line x1="686.2" y1="1173.6" x2="742.1" y2="1157.5" stroke="#0e0e0e" stroke-width="5.3" stroke-linecap="round"/>
<line x1="686.2" y1="1175.2" x2="742.1" y2="1159" stroke="#a9a9a9" stroke-width="5.3" stroke-linecap="round"/>
<line x1="736" y1="1173.6" x2="791.9" y2="1157.5" stroke="#0e0e0e" stroke-width="5.3" stroke-linecap="round"/>
<line x1="736" y1="1175.2" x2="791.9" y2="1159" stroke="#a9a9a9" stroke-width="5.3" stroke-linecap="round"/>
<line x1="786.1" y1="1173.6" x2="842.1" y2="1157.5" stroke="#0e0e0e" stroke-width="5.3" stroke-linecap="round"/>
<line x1="786.1" y1="1175.2" x2="842.1" y2="1159" stroke="#a9a9a9" stroke-width="5.3" stroke-linecap="round"/>
<line x1="836.8" y1="1173.6" x2="892.7" y2="1157.5" stroke="#0e0e0e" stroke-width="5.3" stroke-linecap="round"/>
<line x1="836.8" y1="1175.2" x2="892.7" y2="1159" stroke="#a9a9a9" stroke-width="5.3" stroke-linecap="round"/>
<line x1="887.8" y1="1173.6" x2="943.7" y2="1157.5" stroke="#0e0e0e" stroke-width="5.3" stroke-linecap="round"/>
<line x1="887.8" y1="1175.2" x2="943.7" y2="1159" stroke="#a9a9a9" stroke-width="5.3" stroke-linecap="round"/>
<line x1="939.3" y1="1173.6" x2="995.2" y2="1157.5" stroke="#0e0e0e" stroke-width="5.3" stroke-linecap="round"/>
<line x1="939.3" y1="1175.2" x2="995.2" y2="1159" stroke="#a9a9a9" stroke-width="5.3" stroke-linecap="round"/>
<line x1="991.3" y1="1173.6" x2="1047.2" y2="1157.5" stroke="#0e0e0e" stroke-width="5.3" stroke-linecap="round"/>
<line x1="991.3" y1="1175.2" x2="1047.2" y2="1159" stroke="#a9a9a9" stroke-width="5.3" stroke-linecap="round"/>
<circle cx="456.5" cy="1096.7" r="15" fill="#0b0b0b"/>
<circle cx="456.5" cy="1096.7" r="12.8" fill="none" stroke="#3d3d3d" stroke-width="3"/>
<path d="M444.6 1098.4 A12 12 0 0 1 454.8 1084.8" stroke="#bdbdbd" stroke-width="3.4" fill="none" stroke-linecap="round" opacity=".85"/>
<path d="M468.9 1098.9 A12.6 12.6 0 0 1 455.4 1109.3" stroke="#707070" stroke-width="1.6" fill="none" stroke-linecap="round"/>
<circle cx="457.5" cy="1098.3" r="10.7" fill="#272727" stroke="#080808" stroke-width="1.2"/>
<g transform="rotate(20 457.5 1098.3)" stroke="#000" stroke-width="2.7" stroke-linecap="round"><line x1="452.5" y1="1098.3" x2="462.5" y2="1098.3"/><line x1="457.5" y1="1093.3" x2="457.5" y2="1103.3"/></g>
<circle cx="458.5" cy="1183.2" r="15" fill="#0b0b0b"/>
<circle cx="458.5" cy="1183.2" r="12.8" fill="none" stroke="#3d3d3d" stroke-width="3"/>
<path d="M446.6 1184.9 A12 12 0 0 1 456.8 1171.3" stroke="#bdbdbd" stroke-width="3.4" fill="none" stroke-linecap="round" opacity=".85"/>
<path d="M470.9 1185.4 A12.6 12.6 0 0 1 457.4 1195.8" stroke="#707070" stroke-width="1.6" fill="none" stroke-linecap="round"/>
<circle cx="459.5" cy="1184.8" r="10.7" fill="#272727" stroke="#080808" stroke-width="1.2"/>
<g transform="rotate(20 459.5 1184.8)" stroke="#000" stroke-width="2.7" stroke-linecap="round"><line x1="454.5" y1="1184.8" x2="464.5" y2="1184.8"/><line x1="459.5" y1="1179.8" x2="459.5" y2="1189.8"/></g>
<circle cx="1135.5" cy="1098.2" r="15" fill="#0b0b0b"/>
<circle cx="1135.5" cy="1098.2" r="12.8" fill="none" stroke="#3d3d3d" stroke-width="3"/>
<path d="M1123.6 1099.9 A12 12 0 0 1 1133.8 1086.3" stroke="#bdbdbd" stroke-width="3.4" fill="none" stroke-linecap="round" opacity=".85"/>
<path d="M1147.9 1100.4 A12.6 12.6 0 0 1 1134.4 1110.8" stroke="#707070" stroke-width="1.6" fill="none" stroke-linecap="round"/>
<circle cx="1136.5" cy="1099.8" r="10.7" fill="#272727" stroke="#080808" stroke-width="1.2"/>
<g transform="rotate(20 1136.5 1099.8)" stroke="#000" stroke-width="2.7" stroke-linecap="round"><line x1="1131.5" y1="1099.8" x2="1141.5" y2="1099.8"/><line x1="1136.5" y1="1094.8" x2="1136.5" y2="1104.8"/></g>
<circle cx="1135" cy="1184.2" r="15" fill="#0b0b0b"/>
<circle cx="1135" cy="1184.2" r="12.8" fill="none" stroke="#3d3d3d" stroke-width="3"/>
<path d="M1123.1 1185.9 A12 12 0 0 1 1133.3 1172.3" stroke="#bdbdbd" stroke-width="3.4" fill="none" stroke-linecap="round" opacity=".85"/>
<path d="M1147.4 1186.4 A12.6 12.6 0 0 1 1133.9 1196.8" stroke="#707070" stroke-width="1.6" fill="none" stroke-linecap="round"/>
<circle cx="1136" cy="1185.8" r="10.7" fill="#272727" stroke="#080808" stroke-width="1.2"/>
<g transform="rotate(20 1136 1185.8)" stroke="#000" stroke-width="2.7" stroke-linecap="round"><line x1="1131" y1="1185.8" x2="1141" y2="1185.8"/><line x1="1136" y1="1180.8" x2="1136" y2="1190.8"/></g>
<rect x="530" y="1195.5" width="550" height="5" fill="#c4c4c4"/>
<polygon points="530,1199.5 1080,1199.5 1105,1339 1105,1350 493,1349.5 493,1339" fill="#0b0b0b"/>
<polygon points="530,1199.5 1080,1199.5 1082,1213 527,1213" fill="#161616"/>
<line x1="494" y1="1339.5" x2="1104" y2="1339.5" stroke="#1f1f1f" stroke-width="1"/>
<line x1="551.1" y1="1234.7" x2="528.9" y2="1325.3" stroke="#ffffff" stroke-width="11.8" stroke-linecap="round"/>
<line x1="576.5" y1="1234.8" x2="556" y2="1325.2" stroke="#ffffff" stroke-width="11.8" stroke-linecap="round"/>
<line x1="598.3" y1="1251.8" x2="587.1" y2="1306.2" stroke="#ffffff" stroke-width="11.8" stroke-linecap="round"/>
<line x1="625.1" y1="1245.8" x2="612.6" y2="1313.2" stroke="#ffffff" stroke-width="11.8" stroke-linecap="round"/>
<line x1="651.5" y1="1240.8" x2="638.5" y2="1319.2" stroke="#ffffff" stroke-width="11.8" stroke-linecap="round"/>
<line x1="677.9" y1="1234.8" x2="664.5" y2="1325.7" stroke="#ffffff" stroke-width="11.8" stroke-linecap="round"/>
<line x1="702.4" y1="1241.9" x2="692.5" y2="1319.1" stroke="#ffffff" stroke-width="11.8" stroke-linecap="round"/>
<line x1="727.4" y1="1245.9" x2="720.2" y2="1313.1" stroke="#ffffff" stroke-width="11.8" stroke-linecap="round"/>
<line x1="752.6" y1="1250.9" x2="747.5" y2="1308.1" stroke="#ffffff" stroke-width="11.8" stroke-linecap="round"/>
<line x1="778" y1="1254.9" x2="774.7" y2="1303.1" stroke="#ffffff" stroke-width="11.8" stroke-linecap="round"/>
<line x1="803.6" y1="1258.4" x2="801.6" y2="1299.1" stroke="#ffffff" stroke-width="11.8" stroke-linecap="round"/>
<line x1="829.5" y1="1254.9" x2="828.1" y2="1303.1" stroke="#ffffff" stroke-width="11.8" stroke-linecap="round"/>
<line x1="855.3" y1="1250.9" x2="854.7" y2="1308.1" stroke="#ffffff" stroke-width="11.8" stroke-linecap="round"/>
<line x1="880.9" y1="1245.9" x2="881.6" y2="1313.1" stroke="#ffffff" stroke-width="11.8" stroke-linecap="round"/>
<line x1="906.4" y1="1241.9" x2="908.7" y2="1319.1" stroke="#ffffff" stroke-width="11.8" stroke-linecap="round"/>
<line x1="931.5" y1="1234.9" x2="936" y2="1325.6" stroke="#ffffff" stroke-width="11.8" stroke-linecap="round"/>
<line x1="957.3" y1="1240.9" x2="962.7" y2="1319.1" stroke="#ffffff" stroke-width="11.8" stroke-linecap="round"/>
<line x1="983.2" y1="1245.9" x2="989.2" y2="1313.1" stroke="#ffffff" stroke-width="11.8" stroke-linecap="round"/>
<line x1="1009.5" y1="1251.9" x2="1015.3" y2="1306.1" stroke="#ffffff" stroke-width="11.8" stroke-linecap="round"/>
<line x1="1033" y1="1234.9" x2="1044.5" y2="1325.1" stroke="#ffffff" stroke-width="11.8" stroke-linecap="round"/>
<line x1="1058.4" y1="1234.8" x2="1071.6" y2="1325.2" stroke="#ffffff" stroke-width="11.8" stroke-linecap="round"/>
<line x1="597" y1="1229.5" x2="645" y2="1229.5" stroke="#ffffff" stroke-width="2.2" stroke-linecap="round"/>
<line x1="575" y1="1331.5" x2="627" y2="1331.5" stroke="#ffffff" stroke-width="2.2" stroke-linecap="round"/>
<line x1="710" y1="1229.5" x2="900" y2="1229.5" stroke="#ffffff" stroke-width="2.2" stroke-linecap="round"/>
<line x1="696" y1="1332" x2="902" y2="1332" stroke="#ffffff" stroke-width="2.2" stroke-linecap="round"/>
<line x1="962" y1="1229.5" x2="1010" y2="1229.5" stroke="#ffffff" stroke-width="2.2" stroke-linecap="round"/>
<line x1="970" y1="1332" x2="1022" y2="1332" stroke="#ffffff" stroke-width="2.2" stroke-linecap="round"/>
<ellipse cx="596" cy="1239.5" rx="5" ry="2.2" fill="#ffffff"/>
<ellipse cx="579.5" cy="1319.5" rx="5" ry="2.2" fill="#ffffff"/>
<ellipse cx="674" cy="1222.8" rx="5" ry="2.2" fill="#ffffff"/>
<ellipse cx="935.5" cy="1223" rx="5" ry="2.2" fill="#ffffff"/>
<ellipse cx="1012.6" cy="1240" rx="5" ry="2.2" fill="#ffffff"/>
<ellipse cx="1021" cy="1319.5" rx="5" ry="2.2" fill="#ffffff"/>
<ellipse cx="771" cy="1319.5" rx="5" ry="2.2" fill="#ffffff"/>
<ellipse cx="829" cy="1319.5" rx="5" ry="2.2" fill="#ffffff"/>
<ellipse cx="500.7" cy="1236" rx="7" ry="4" fill="#e9e9e9"/>
<rect x="497.7" y="1228" width="6" height="8" rx="2" fill="#8f8f8f"/>
<ellipse cx="485" cy="1299" rx="7" ry="4" fill="#e9e9e9"/>
<rect x="482" y="1291" width="6" height="8" rx="2" fill="#8f8f8f"/>
<ellipse cx="1106" cy="1237" rx="7" ry="4" fill="#e9e9e9"/>
<rect x="1103" y="1229" width="6" height="8" rx="2" fill="#8f8f8f"/>
<ellipse cx="1112" cy="1304" rx="7" ry="4" fill="#e9e9e9"/>
<rect x="1109" y="1296" width="6" height="8" rx="2" fill="#8f8f8f"/>
<line x1="343" y1="476.4" x2="501" y2="476.4" stroke="#d67a31" stroke-width="2.8"/>
<circle cx="501.4" cy="476.5" r="10.6" fill="#e8781f"/>
<line x1="1125" y1="741.2" x2="1252" y2="741.2" stroke="#d67a31" stroke-width="2.8"/>
<circle cx="1125.2" cy="741.2" r="10.6" fill="#e8781f"/>
<line x1="1091" y1="1027.4" x2="1252" y2="1027.4" stroke="#d67a31" stroke-width="2.8"/>
<circle cx="1091.2" cy="1027.6" r="10.6" fill="#e8781f"/>
<polyline points="343,1245.3 454.3,1245.3 454.3,1354" fill="none" stroke="#d67a31" stroke-width="2.8"/>
<circle cx="453.6" cy="1354.2" r="10.6" fill="#e8781f"/>
<g clip-path="url(#c1)">
<rect x="30" y="300" width="320" height="320" fill="#ffffff"/>
<polygon points="20,330 60,308 141.3,317.8 285.6,345 320,352 360,430 360,640 20,640" fill="url(#g1p)"/>
<polygon points="310,400 360,380 360,520 335,470" fill="#9d9d9d" opacity=".55"/>
<polygon points="228,600 265,575 300,560 300,640 200,640" fill="#ffffff"/>
<polygon points="7,317.3 10.3,316.1 14.2,315.4 17.9,315.4 20.8,316 22.2,317.2 22,318.7 20.1,320.2 -25.1,344.3 -28.9,345.8 -33.4,346.7 -37.7,346.8 -40.8,346 -42.1,344.6 -41.5,342.8 -39,341" fill="#a6a6a6"/>
<polygon points="9,317.1 11.8,316.1 15,315.5 18.2,315.4 20.6,315.9 21.7,316.9 21.5,318.2 19.8,319.5 -25.6,343.7 -28.8,344.9 -32.6,345.7 -36.1,345.8 -38.7,345.1 -39.8,344 -39.2,342.5 -37.1,340.9" fill="#2f2f2f"/>
<polygon points="3.8,319.8 6.6,318.8 9.9,318.1 13.1,318.1 15.5,318.6 16.7,319.6 16.4,320.9 14.7,322.2 -25.6,343.7 -28.8,344.9 -32.6,345.7 -36.1,345.8 -38.7,345.1 -39.8,344 -39.2,342.5 -37.1,340.9" fill="#8f8f8f"/>
<polygon points="25.7,321.4 28.9,320.1 32.8,319.4 36.6,319.4 39.5,320 41.1,321.2 40.9,322.7 39.1,324.3 27.7,330.7 24.4,332.1 20.3,332.9 16.3,332.9 13.3,332.2 11.8,330.9 12.1,329.3 14.1,327.7" fill="#a6a6a6"/>
<polygon points="27.7,321.2 30.5,320.1 33.7,319.5 36.8,319.4 39.3,320 40.6,320.9 40.4,322.2 38.8,323.6 27.2,330.1 24.3,331.3 20.9,331.9 17.6,332 15.1,331.4 13.9,330.3 14.2,329 15.9,327.6" fill="#2f2f2f"/>
<polygon points="22.7,323.9 25.4,322.8 28.7,322.2 31.9,322.2 34.4,322.7 35.6,323.7 35.4,325 33.8,326.4 27.2,330.1 24.3,331.3 20.9,331.9 17.6,332 15.1,331.4 13.9,330.3 14.2,329 15.9,327.6" fill="#979797"/>
<polygon points="44.9,325.6 48,324.3 51.9,323.5 55.7,323.5 58.7,324.1 60.4,325.3 60.3,326.9 58.6,328.5 15.8,354.1 12.1,355.7 7.7,356.7 3.4,356.7 0.1,355.9 -1.5,354.4 -1.1,352.5 1.2,350.6" fill="#a6a6a6"/>
<polygon points="46.9,325.3 49.6,324.2 52.8,323.6 56,323.5 58.5,324.1 59.8,325.1 59.7,326.4 58.2,327.8 15.2,353.4 12.1,354.8 8.4,355.6 4.8,355.7 2.1,355 0.8,353.7 1.2,352.1 3.2,350.5" fill="#2f2f2f"/>
<polygon points="42,328.2 44.7,327 48,326.4 51.2,326.3 53.7,326.9 55,327.9 54.9,329.3 53.4,330.7 15.2,353.4 12.1,354.8 8.4,355.6 4.8,355.7 2.1,355 0.8,353.7 1.2,352.1 3.2,350.5" fill="#8f8f8f"/>
<polygon points="64.5,329.8 67.6,328.5 71.5,327.7 75.3,327.7 78.4,328.3 80.1,329.6 80.2,331.2 78.5,332.8 67.9,339.6 64.7,341.1 60.6,341.9 56.6,342 53.4,341.3 51.6,339.9 51.7,338.2 53.6,336.5" fill="#a6a6a6"/>
<polygon points="66.5,329.6 69.2,328.4 72.4,327.8 75.6,327.7 78.1,328.3 79.6,329.3 79.6,330.7 78.2,332.1 67.2,339 64.5,340.2 61.1,340.9 57.8,341 55.1,340.4 53.7,339.3 53.8,337.8 55.4,336.4" fill="#2f2f2f"/>
<polygon points="61.8,332.5 64.4,331.3 67.7,330.7 70.9,330.6 73.5,331.2 74.9,332.2 74.9,333.6 73.5,335 67.2,339 64.5,340.2 61.1,340.9 57.8,341 55.1,340.4 53.7,339.3 53.8,337.8 55.4,336.4" fill="#979797"/>
<polygon points="34.6,348 38.1,346.5 42.3,345.7 46.4,345.6 49.6,346.3 51.4,347.7 51.3,349.6 49.3,351.5 37.1,359.2 33.5,360.9 29.1,361.8 24.7,361.9 21.4,361.1 19.7,359.6 20,357.6 22.2,355.6" fill="#a6a6a6"/>
<polygon points="36.8,347.7 39.7,346.5 43.2,345.7 46.7,345.6 49.4,346.3 50.8,347.4 50.7,349 49,350.6 36.5,358.5 33.4,359.9 29.7,360.7 26.1,360.8 23.3,360.1 21.9,358.8 22.2,357.2 24.1,355.5" fill="#2f2f2f"/>
<polygon points="31.3,351.1 34.3,349.8 37.9,349 41.4,348.9 44.1,349.6 45.5,350.8 45.3,352.3 43.6,354 36.5,358.5 33.4,359.9 29.7,360.7 26.1,360.8 23.3,360.1 21.9,358.8 22.2,357.2 24.1,355.5" fill="#979797"/>
<polygon points="0.4,368.9 4.3,367.2 8.9,366.2 13.3,366.1 16.7,366.9 18.5,368.5 18.1,370.6 15.8,372.8 1.8,381.7 -2.3,383.6 -7.3,384.8 -12,384.9 -15.5,383.9 -17.1,382.2 -16.6,379.9 -14,377.7" fill="#cdcdcd"/>
<polygon points="2.8,368.6 6.1,367.1 10,366.2 13.7,366.1 16.5,366.8 17.9,368.2 17.6,369.9 15.6,371.8 1.2,380.9 -2.3,382.5 -6.4,383.5 -10.3,383.6 -13.3,382.8 -14.6,381.3 -14.1,379.4 -11.9,377.5" fill="#4e4e4e"/>
<polygon points="-4.6,373.1 -1.2,371.6 2.7,370.7 6.5,370.6 9.3,371.3 10.7,372.7 10.3,374.5 8.3,376.4 1.2,380.9 -2.3,382.5 -6.4,383.5 -10.3,383.6 -13.3,382.8 -14.6,381.3 -14.1,379.4 -11.9,377.5" fill="#efefef"/>
<polygon points="84.6,334.2 87.7,332.8 91.5,332 95.4,332 98.5,332.6 100.4,333.9 100.6,335.6 99,337.3 59,364.4 55.5,366.1 51.1,367.2 46.7,367.2 43.2,366.4 41.4,364.8 41.6,362.8 43.6,360.8" fill="#a6a6a6"/>
<polygon points="86.7,333.9 89.2,332.7 92.4,332.1 95.7,332 98.3,332.6 99.8,333.7 99.9,335 98.6,336.5 58.3,363.7 55.3,365.1 51.6,366 48,366.1 45.1,365.4 43.6,364.1 43.8,362.4 45.6,360.7" fill="#2f2f2f"/>
<polygon points="82,336.9 84.7,335.7 87.9,335 91.2,335 93.8,335.6 95.3,336.7 95.4,338.1 94,339.5 58.3,363.7 55.3,365.1 51.6,366 48,366.1 45.1,365.4 43.6,364.1 43.8,362.4 45.6,360.7" fill="#8f8f8f"/>
<polygon points="22.5,374.5 26.4,372.7 31,371.6 35.4,371.5 38.9,372.4 40.8,374.1 40.6,376.2 38.4,378.5 -15,414.8 -19.7,417.1 -25.2,418.5 -30.4,418.6 -34.2,417.5 -35.9,415.4 -35.1,412.7 -32.1,409.9" fill="#cdcdcd"/>
<polygon points="24.9,374.1 28.2,372.6 32,371.7 35.8,371.6 38.7,372.3 40.2,373.7 40,375.5 38.1,377.4 -15.7,413.8 -19.6,415.7 -24.2,416.9 -28.5,417.1 -31.7,416.1 -33,414.4 -32.4,412.1 -29.8,409.8" fill="#4e4e4e"/>
<polygon points="17.8,378.8 21.1,377.2 25,376.3 28.8,376.2 31.7,376.9 33.2,378.4 33,380.2 31,382.2 -15.7,413.8 -19.6,415.7 -24.2,416.9 -28.5,417.1 -31.7,416.1 -33,414.4 -32.4,412.1 -29.8,409.8" fill="#efefef"/>
<polygon points="105.3,338.6 108.2,337.2 112.1,336.4 116,336.4 119.2,337.1 121.2,338.4 121.5,340.1 120,341.8 110.1,349 107.1,350.6 103.1,351.5 98.9,351.5 95.6,350.8 93.6,349.3 93.5,347.5 95.1,345.7" fill="#a6a6a6"/>
<polygon points="107.3,338.4 109.8,337.2 113,336.5 116.2,336.4 118.9,337 120.6,338.1 120.8,339.5 119.5,341 109.4,348.4 106.8,349.6 103.4,350.4 100,350.5 97.2,349.9 95.6,348.7 95.5,347.1 96.9,345.6" fill="#2f2f2f"/>
<polygon points="102.8,341.5 105.4,340.2 108.6,339.5 111.9,339.5 114.6,340.1 116.3,341.2 116.5,342.7 115.2,344.2 109.4,348.4 106.8,349.6 103.4,350.4 100,350.5 97.2,349.9 95.6,348.7 95.5,347.1 96.9,345.6" fill="#979797"/>
<polygon points="77.4,358 80.7,356.4 84.9,355.4 89,355.4 92.5,356.1 94.5,357.6 94.6,359.6 92.9,361.6 81.6,369.8 78.1,371.6 73.7,372.6 69.2,372.7 65.7,371.9 63.7,370.2 63.8,368.1 65.7,366" fill="#a6a6a6"/>
<polygon points="79.6,357.7 82.4,356.3 85.9,355.5 89.4,355.4 92.2,356.1 93.8,357.3 93.9,359 92.4,360.6 80.8,369.1 77.9,370.5 74.2,371.4 70.5,371.5 67.6,370.8 66,369.5 66,367.7 67.7,365.9" fill="#2f2f2f"/>
<polygon points="74.5,361.2 77.3,359.8 80.9,359 84.4,358.9 87.3,359.6 88.9,360.9 89,362.5 87.4,364.3 80.8,369.1 77.9,370.5 74.2,371.4 70.5,371.5 67.6,370.8 66,369.5 66,367.7 67.7,365.9" fill="#979797"/>
<polygon points="45.3,380.2 49.1,378.3 53.7,377.3 58.2,377.2 61.8,378 63.8,379.8 63.8,382 61.7,384.3 48.6,393.8 44.6,395.9 39.7,397.1 34.9,397.2 31.2,396.2 29.2,394.3 29.5,391.9 31.9,389.5" fill="#cdcdcd"/>
<polygon points="47.7,379.8 50.9,378.2 54.8,377.3 58.5,377.2 61.5,377.9 63.1,379.4 63.1,381.3 61.3,383.2 47.8,393 44.5,394.7 40.4,395.7 36.4,395.8 33.3,395 31.7,393.5 32,391.4 34,389.4" fill="#4e4e4e"/>
<polygon points="40.8,384.7 44.1,383 48,382.1 51.8,382 54.8,382.7 56.4,384.2 56.3,386.1 54.5,388.1 47.8,393 44.5,394.7 40.4,395.7 36.4,395.8 33.3,395 31.7,393.5 32,391.4 34,389.4" fill="#efefef"/>
<polygon points="8.1,406 12.4,403.8 17.5,402.5 22.4,402.4 26.2,403.4 28.2,405.4 27.9,408 25.4,410.7 10,421.9 5.5,424.3 0,425.7 -5.2,425.9 -9.2,424.7 -11.1,422.5 -10.5,419.7 -7.6,416.9" fill="#cdcdcd"/>
<polygon points="10.8,405.5 14.4,403.7 18.7,402.6 22.8,402.5 25.9,403.3 27.5,405 27.2,407.2 25.1,409.4 9.3,420.8 5.5,422.9 0.9,424.1 -3.4,424.3 -6.7,423.3 -8.2,421.5 -7.7,419.1 -5.3,416.7" fill="#4e4e4e"/>
<polygon points="2.7,411.2 6.4,409.3 10.8,408.1 15,408 18.1,408.9 19.7,410.6 19.4,412.8 17.1,415.2 9.3,420.8 5.5,422.9 0.9,424.1 -3.4,424.3 -6.7,423.3 -8.2,421.5 -7.7,419.1 -5.3,416.7" fill="#efefef"/>
<polygon points="126.4,343.2 129.3,341.8 133.1,340.9 137.1,340.9 140.4,341.6 142.5,343 142.9,344.7 141.6,346.5 104.7,375.4 101.3,377.2 97,378.3 92.5,378.4 88.8,377.5 86.7,375.8 86.6,373.6 88.4,371.5" fill="#a6a6a6"/>
<polygon points="128.5,342.9 130.9,341.7 134.1,341 137.4,340.9 140.1,341.5 141.8,342.7 142.2,344.1 141,345.7 103.9,374.6 101,376.1 97.4,377 93.7,377.1 90.6,376.4 88.9,375 88.9,373.2 90.4,371.4" fill="#2f2f2f"/>
<polygon points="124.2,346.1 126.7,344.9 129.9,344.1 133.2,344.1 136,344.7 137.7,345.8 138,347.4 136.8,348.9 103.9,374.6 101,376.1 97.4,377 93.7,377.1 90.6,376.4 88.9,375 88.9,373.2 90.4,371.4" fill="#8f8f8f"/>
<polygon points="68.8,386.1 72.5,384.2 77,383 81.6,382.9 85.3,383.9 87.4,385.6 87.6,387.9 85.6,390.3 35.9,429.2 31.5,431.7 26.1,433.2 20.7,433.4 16.6,432.2 14.6,429.9 15,427 17.7,424.1" fill="#cdcdcd"/>
<polygon points="71.2,385.7 74.3,384.1 78.1,383.1 81.9,383 85,383.8 86.8,385.2 86.8,387.2 85.1,389.2 35.2,428.2 31.4,430.3 26.9,431.5 22.4,431.7 19.1,430.7 17.4,428.8 17.8,426.4 20.1,423.9" fill="#4e4e4e"/>
<polygon points="64.5,390.7 67.7,389 71.6,388 75.5,387.9 78.6,388.7 80.3,390.2 80.3,392.2 78.6,394.3 35.2,428.2 31.4,430.3 26.9,431.5 22.4,431.7 19.1,430.7 17.4,428.8 17.8,426.4 20.1,423.9" fill="#efefef"/>
<polygon points="148.2,347.9 151,346.4 154.7,345.6 158.7,345.5 162.1,346.2 164.3,347.6 164.9,349.4 163.7,351.3 154.7,358.9 151.8,360.6 147.8,361.5 143.6,361.6 140,360.8 137.8,359.3 137.4,357.3 138.8,355.4" fill="#a6a6a6"/>
<polygon points="150.2,347.6 152.6,346.4 155.7,345.6 159,345.6 161.9,346.2 163.7,347.3 164.1,348.9 163,350.4 153.8,358.2 151.3,359.6 148,360.4 144.5,360.5 141.6,359.8 139.8,358.6 139.5,356.9 140.7,355.3" fill="#2f2f2f"/>
<polygon points="146.1,350.9 148.5,349.6 151.7,348.9 155.1,348.8 157.9,349.4 159.7,350.6 160.2,352.2 159.1,353.8 153.8,358.2 151.3,359.6 148,360.4 144.5,360.5 141.6,359.8 139.8,358.6 139.5,356.9 140.7,355.3" fill="#979797"/>
<polygon points="122.5,368.5 125.7,366.8 129.8,365.8 134.1,365.7 137.7,366.5 139.9,368.1 140.4,370.2 138.9,372.3 128.6,381.1 125.3,382.9 120.9,384 116.4,384.2 112.6,383.2 110.4,381.5 110.1,379.3 111.8,377.1" fill="#a6a6a6"/>
<polygon points="124.7,368.1 127.4,366.7 130.8,365.8 134.4,365.7 137.4,366.4 139.2,367.8 139.6,369.5 138.3,371.3 127.7,380.2 124.9,381.8 121.3,382.8 117.5,382.9 114.4,382.1 112.5,380.7 112.3,378.8 113.8,376.9" fill="#2f2f2f"/>
<polygon points="120,371.9 122.8,370.4 126.3,369.5 129.9,369.4 132.9,370.1 134.7,371.5 135.1,373.3 133.7,375.1 127.7,380.2 124.9,381.8 121.3,382.8 117.5,382.9 114.4,382.1 112.5,380.7 112.3,378.8 113.8,376.9" fill="#979797"/>
<polygon points="93,392.2 96.6,390.2 101.1,389 105.7,388.9 109.5,389.8 111.8,391.7 112.1,394 110.3,396.5 98.3,406.7 94.5,408.9 89.7,410.2 84.8,410.4 80.8,409.3 78.5,407.3 78.4,404.7 80.5,402.1" fill="#cdcdcd"/>
<polygon points="95.4,391.8 98.4,390.1 102.2,389.1 106.1,389 109.2,389.7 111.1,391.3 111.3,393.3 109.7,395.4 97.4,405.8 94.2,407.6 90.2,408.7 86.1,408.9 82.8,408 81,406.3 80.9,404.2 82.7,402" fill="#4e4e4e"/>
<polygon points="89,396.9 92.1,395.2 96,394.1 99.9,394 103.1,394.8 104.9,396.4 105.1,398.5 103.5,400.6 97.4,405.8 94.2,407.6 90.2,408.7 86.1,408.9 82.8,408 81,406.3 80.9,404.2 82.7,402" fill="#efefef"/>
<polygon points="58.5,419.8 62.6,417.4 67.7,416.1 72.7,415.9 76.8,417 79.1,419.1 79.1,421.9 76.9,424.8 62.7,436.8 58.4,439.4 53,441 47.6,441.1 43.4,439.9 41.1,437.5 41.3,434.5 43.9,431.5" fill="#cdcdcd"/>
<polygon points="61.2,419.3 64.7,417.3 68.9,416.1 73.1,416 76.4,416.9 78.3,418.7 78.3,421 76.4,423.4 61.9,435.7 58.2,437.9 53.7,439.2 49.2,439.4 45.7,438.4 43.9,436.4 44.1,433.9 46.3,431.3" fill="#4e4e4e"/>
<polygon points="53.7,425.3 57.2,423.3 61.6,422.1 65.8,421.9 69.2,422.9 71.1,424.7 71,427.1 69.1,429.6 61.9,435.7 58.2,437.9 53.7,439.2 49.2,439.4 45.7,438.4 43.9,436.4 44.1,433.9 46.3,431.3" fill="#efefef"/>
<polygon points="17.8,452.3 22.6,449.6 28.3,447.9 33.8,447.7 38.1,449 40.4,451.5 40.2,454.8 37.4,458.2 20.5,472.6 15.4,475.7 9.3,477.6 3.3,477.9 -1.2,476.4 -3.4,473.6 -2.8,470 0.4,466.3" fill="#cdcdcd"/>
<polygon points="20.8,451.8 24.8,449.4 29.6,448 34.2,447.8 37.8,448.9 39.6,451 39.4,453.7 37,456.6 19.6,471.3 15.4,473.9 10.2,475.5 5.3,475.8 1.6,474.6 -0.2,472.2 0.3,469.2 3,466.1" fill="#4e4e4e"/>
<polygon points="11.9,459 16,456.5 20.9,455.1 25.6,454.9 29.2,456 31,458.2 30.7,461 28.3,464 19.6,471.3 15.4,473.9 10.2,475.5 5.3,475.8 1.6,474.6 -0.2,472.2 0.3,469.2 3,466.1" fill="#efefef"/>
<polygon points="170.4,352.8 173.2,351.2 176.9,350.3 180.9,350.3 184.4,351 186.8,352.5 187.5,354.3 186.4,356.2 153.1,386.9 149.9,388.9 145.6,390 141,390.1 137.1,389.2 134.7,387.4 134.3,385.1 135.8,382.8" fill="#a6a6a6"/>
<polygon points="172.5,352.5 174.8,351.2 177.9,350.4 181.2,350.3 184.2,350.9 186.1,352.1 186.6,353.7 185.7,355.3 152.1,386.1 149.4,387.7 145.8,388.7 142,388.8 138.8,388 136.9,386.5 136.5,384.6 137.9,382.7" fill="#2f2f2f"/>
<polygon points="168.6,355.9 170.9,354.5 174.1,353.7 177.5,353.7 180.4,354.3 182.4,355.5 182.9,357.1 181.9,358.8 152.1,386.1 149.4,387.7 145.8,388.7 142,388.8 138.8,388 136.9,386.5 136.5,384.6 137.9,382.7" fill="#8f8f8f"/>
<polygon points="117.9,398.4 121.4,396.3 125.9,395.1 130.5,395 134.5,396 136.9,397.9 137.4,400.3 135.8,402.9 90.4,444.7 86.2,447.4 80.9,449 75.4,449.2 71,447.9 68.6,445.5 68.6,442.3 70.9,439.2" fill="#cdcdcd"/>
<polygon points="120.3,398 123.2,396.2 127,395.2 130.9,395.1 134.2,395.9 136.2,397.5 136.5,399.5 135.1,401.7 89.5,443.5 85.9,445.8 81.5,447.2 76.9,447.4 73.3,446.3 71.3,444.3 71.3,441.6 73.4,439" fill="#4e4e4e"/>
<polygon points="114.2,403.3 117.2,401.5 121,400.5 125,400.3 128.3,401.2 130.3,402.8 130.6,404.9 129.2,407.1 89.5,443.5 85.9,445.8 81.5,447.2 76.9,447.4 73.3,446.3 71.3,444.3 71.3,441.6 73.4,439" fill="#efefef"/>
<polygon points="46,460.8 50.6,457.9 56.3,456.2 61.9,456 66.3,457.4 68.8,460 68.8,463.4 66.3,466.9 1,527.1 -4.8,531.1 -11.9,533.5 -18.6,533.9 -23.7,532 -26,528.4 -25.1,523.9 -21.3,519.2" fill="#cdcdcd"/>
<polygon points="49,460.2 52.9,457.8 57.6,456.3 62.3,456.1 66,457.2 68,459.4 67.9,462.3 65.8,465.3 0.2,525.4 -4.8,528.8 -10.7,530.9 -16.3,531.2 -20.4,529.7 -22.3,526.7 -21.5,522.8 -18.3,518.9" fill="#4e4e4e"/>
<polygon points="40.4,467.7 44.4,465.2 49.3,463.7 54,463.5 57.8,464.6 59.8,466.9 59.7,469.8 57.4,473 0.2,525.4 -4.8,528.8 -10.7,530.9 -16.3,531.2 -20.4,529.7 -22.3,526.7 -21.5,522.8 -18.3,518.9" fill="#efefef"/>
<polygon points="193.3,357.7 196,356.1 199.7,355.2 203.7,355.1 207.3,355.9 209.8,357.4 210.7,359.3 209.7,361.3 201.7,369.4 198.9,371.1 195,372.1 190.8,372.2 187,371.4 184.5,369.8 183.8,367.7 184.9,365.7" fill="#a6a6a6"/>
<polygon points="195.4,357.4 197.6,356.1 200.7,355.3 204.1,355.2 207,355.8 209.1,357.1 209.7,358.7 208.9,360.3 200.7,368.6 198.4,370.1 195.1,371 191.6,371.1 188.5,370.4 186.4,369 185.8,367.3 186.8,365.5" fill="#2f2f2f"/>
<polygon points="191.7,360.9 194,359.5 197.1,358.7 200.5,358.6 203.5,359.3 205.6,360.6 206.2,362.2 205.4,363.9 200.7,368.6 198.4,370.1 195.1,371 191.6,371.1 188.5,370.4 186.4,369 185.8,367.3 186.8,365.5" fill="#979797"/>
<polygon points="170.3,379.6 173.2,377.7 177.3,376.7 181.6,376.6 185.5,377.4 188,379.1 188.8,381.3 187.6,383.6 178.3,393 175.3,395 171,396.2 166.3,396.3 162.3,395.3 159.8,393.5 159.2,391.1 160.6,388.7" fill="#a6a6a6"/>
<polygon points="172.5,379.2 175,377.6 178.4,376.7 182,376.6 185.2,377.4 187.3,378.8 187.9,380.6 186.8,382.5 177.3,392.1 174.7,393.8 171.1,394.8 167.3,394.9 164,394.1 161.9,392.6 161.4,390.6 162.6,388.6" fill="#2f2f2f"/>
<polygon points="168.2,383.2 170.8,381.6 174.2,380.7 177.9,380.6 181.1,381.3 183.2,382.8 183.8,384.7 182.8,386.6 177.3,392.1 174.7,393.8 171.1,394.8 167.3,394.9 164,394.1 161.9,392.6 161.4,390.6 162.6,388.6" fill="#979797"/>
<polygon points="143.6,404.8 146.9,402.7 151.4,401.5 156.1,401.3 160.2,402.4 162.8,404.3 163.5,406.8 162,409.5 151.2,420.4 147.7,422.8 142.9,424.2 137.9,424.3 133.6,423.2 131,421.1 130.5,418.3 132.3,415.5" fill="#cdcdcd"/>
<polygon points="146,404.4 148.8,402.6 152.6,401.5 156.5,401.4 159.9,402.2 162,403.9 162.5,406 161.2,408.2 150.1,419.4 147.2,421.4 143.2,422.6 139,422.8 135.5,421.8 133.3,420 133,417.7 134.5,415.4" fill="#4e4e4e"/>
<polygon points="140.2,410 143.1,408.1 146.9,407 150.9,406.8 154.3,407.7 156.5,409.4 157,411.6 155.6,413.9 150.1,419.4 147.2,421.4 143.2,422.6 139,422.8 135.5,421.8 133.3,420 133,417.7 134.5,415.4" fill="#efefef"/>
<polygon points="112.3,434.5 116.2,432 121.2,430.5 126.3,430.3 130.6,431.5 133.3,433.8 133.8,436.7 132,439.8 119.1,452.8 115.1,455.6 109.7,457.3 104.2,457.5 99.6,456.2 97,453.6 96.8,450.4 98.9,447.1" fill="#cdcdcd"/>
<polygon points="115,434 118.2,431.8 122.4,430.6 126.7,430.4 130.3,431.4 132.5,433.3 132.8,435.8 131.2,438.4 118.1,451.6 114.6,454 110.2,455.4 105.6,455.6 101.8,454.5 99.7,452.4 99.5,449.7 101.4,446.9" fill="#4e4e4e"/>
<polygon points="108.1,440.5 111.5,438.3 115.7,437 120.1,436.8 123.7,437.8 125.9,439.8 126.3,442.3 124.6,445.1 118.1,451.6 114.6,454 110.2,455.4 105.6,455.6 101.8,454.5 99.7,452.4 99.5,449.7 101.4,446.9" fill="#efefef"/>
<polygon points="75.1,469.6 79.7,466.6 85.3,464.8 90.9,464.6 95.6,466 98.3,468.7 98.5,472.3 96.2,476 80.8,491.6 76,494.9 69.9,497 63.8,497.3 58.9,495.7 56.3,492.6 56.4,488.7 59.1,484.8" fill="#cdcdcd"/>
<polygon points="78.1,469 81.9,466.5 86.7,464.9 91.4,464.7 95.2,465.8 97.4,468.1 97.6,471.1 95.6,474.2 79.7,490.1 75.7,493 70.6,494.7 65.6,495 61.5,493.7 59.4,491.2 59.5,487.9 61.8,484.5" fill="#4e4e4e"/>
<polygon points="69.9,476.8 73.9,474.2 78.7,472.6 83.5,472.4 87.4,473.5 89.6,475.9 89.7,479 87.6,482.2 79.7,490.1 75.7,493 70.6,494.7 65.6,495 61.5,493.7 59.4,491.2 59.5,487.9 61.8,484.5" fill="#efefef"/>
<polygon points="30.3,512 35.7,508.4 42.1,506.2 48.4,505.9 53.4,507.6 56.1,510.8 56,515.1 53,519.7 34.1,538.8 28.4,542.9 21.3,545.5 14.5,545.9 9.2,543.9 6.7,540.2 7.3,535.4 10.8,530.6" fill="#cdcdcd"/>
<polygon points="33.7,511.3 38.2,508.2 43.6,506.3 48.9,506 53,507.4 55.2,510.1 55,513.8 52.4,517.6 33.1,537 28.3,540.5 22.4,542.7 16.7,543 12.4,541.5 10.3,538.4 10.8,534.3 13.8,530.2" fill="#4e4e4e"/>
<polygon points="23.7,520.8 28.4,517.6 33.9,515.6 39.3,515.3 43.5,516.7 45.7,519.6 45.4,523.4 42.7,527.3 33.1,537 28.3,540.5 22.4,542.7 16.7,543 12.4,541.5 10.3,538.4 10.8,534.3 13.8,530.2" fill="#efefef"/>
<polygon points="216.8,362.8 219.4,361.2 223.1,360.2 227.1,360.2 230.8,360.9 233.5,362.5 234.5,364.4 233.7,366.5 204.4,399.2 201.4,401.3 197.1,402.5 192.5,402.6 188.4,401.6 185.6,399.7 184.8,397.3 186.1,394.8" fill="#a6a6a6"/>
<polygon points="218.9,362.5 221,361.1 224.1,360.3 227.5,360.2 230.5,360.9 232.7,362.1 233.5,363.8 232.8,365.5 203.3,398.3 200.8,400 197.2,401.1 193.3,401.2 189.9,400.4 187.7,398.8 187,396.8 188.1,394.7" fill="#2f2f2f"/>
<polygon points="215.4,366.1 217.6,364.7 220.7,363.8 224.2,363.7 227.3,364.4 229.4,365.7 230.2,367.4 229.5,369.2 203.3,398.3 200.8,400 197.2,401.1 193.3,401.2 189.9,400.4 187.7,398.8 187,396.8 188.1,394.7" fill="#8f8f8f"/>
<polygon points="170,411.5 173.3,409.3 177.7,408 182.5,407.9 186.7,408.9 189.5,410.9 190.4,413.5 189.1,416.3 148.8,461.2 144.9,464.1 139.6,465.9 134,466.1 129.3,464.8 126.4,462.1 126,458.7 127.9,455.3" fill="#cdcdcd"/>
<polygon points="172.5,411.1 175.2,409.2 178.9,408.1 182.9,407.9 186.4,408.8 188.7,410.5 189.3,412.7 188.2,415 147.7,460 144.4,462.5 140,463.9 135.3,464.2 131.4,463 129.1,460.8 128.7,458 130.4,455.1" fill="#4e4e4e"/>
<polygon points="167,416.8 169.8,414.8 173.6,413.7 177.6,413.6 181.2,414.4 183.5,416.2 184.1,418.5 182.9,420.8 147.7,460 144.4,462.5 140,463.9 135.3,464.2 131.4,463 129.1,460.8 128.7,458 130.4,455.1" fill="#efefef"/>
<polygon points="105.4,478.7 109.8,475.6 115.4,473.8 121.1,473.5 125.9,475 128.8,477.8 129.4,481.5 127.3,485.3 68.5,551 63,555.3 56,558 49.1,558.4 43.6,556.4 40.7,552.5 41,547.5 44.3,542.4" fill="#cdcdcd"/>
<polygon points="108.4,478.1 112.1,475.4 116.8,473.9 121.5,473.6 125.5,474.8 127.9,477.2 128.3,480.3 126.5,483.5 67.4,549.1 62.8,552.8 56.9,555.1 51.2,555.4 46.6,553.8 44.3,550.5 44.5,546.3 47.3,542" fill="#4e4e4e"/>
<polygon points="100.6,486.2 104.4,483.5 109.2,481.8 114.1,481.6 118.1,482.8 120.5,485.3 120.9,488.5 119,491.9 67.4,549.1 62.8,552.8 56.9,555.1 51.2,555.4 46.6,553.8 44.3,550.5 44.5,546.3 47.3,542" fill="#efefef"/>
<polygon points="10.3,577.7 16.6,572.9 24,570.1 31.2,569.7 36.8,571.8 39.7,576 39.4,581.6 35.8,587.5 -57.8,692.2 -66.4,699.5 -76.4,704 -85.6,704.7 -92.1,701.5 -94.5,695 -92.5,686.8 -86.5,678.5" fill="#cdcdcd"/>
<polygon points="14.2,576.7 19.5,572.6 25.7,570.2 31.7,569.8 36.3,571.5 38.7,575.1 38.4,579.8 35.3,584.8 -58.7,689.2 -66,695.3 -74.3,699.1 -81.9,699.8 -87.3,697.2 -89.2,691.8 -87.5,684.9 -82.4,677.9" fill="#4e4e4e"/>
<polygon points="2.3,589.2 7.8,584.9 14.2,582.3 20.4,581.9 25.1,583.7 27.5,587.4 27,592.4 23.8,597.6 -58.7,689.2 -66,695.3 -74.3,699.1 -81.9,699.8 -87.3,697.2 -89.2,691.8 -87.5,684.9 -82.4,677.9" fill="#efefef"/>
<polygon points="241,368 243.4,366.4 247.1,365.4 251.2,365.3 255,366.1 257.8,367.7 258.9,369.7 258.3,371.8 251.4,380.4 248.8,382.3 245,383.4 240.7,383.5 236.7,382.6 233.9,380.9 232.8,378.7 233.7,376.5" fill="#a6a6a6"/>
<polygon points="243,367.7 245.1,366.3 248.1,365.4 251.5,365.4 254.7,366 257,367.3 257.9,369 257.3,370.8 250.2,379.6 248.1,381.2 244.9,382.1 241.3,382.2 238,381.5 235.7,380 234.8,378.2 235.6,376.4" fill="#2f2f2f"/>
<polygon points="239.8,371.4 241.9,370 245,369.1 248.5,369 251.6,369.7 253.9,371 254.9,372.8 254.3,374.6 250.2,379.6 248.1,381.2 244.9,382.1 241.3,382.2 238,381.5 235.7,380 234.8,378.2 235.6,376.4" fill="#979797"/>
<polygon points="220.8,391.3 223.6,389.4 227.6,388.2 232,388.1 236,389 238.9,390.8 240.1,393.2 239.2,395.6 231.2,405.6 228.3,407.7 224.1,409 219.4,409.2 215.2,408.1 212.3,406.1 211.3,403.6 212.3,401.1" fill="#a6a6a6"/>
<polygon points="223,390.9 225.3,389.3 228.7,388.3 232.4,388.2 235.7,388.9 238.1,390.4 239,392.4 238.2,394.4 230,404.7 227.6,406.5 224.1,407.6 220.2,407.7 216.7,406.9 214.3,405.2 213.5,403.1 214.4,400.9" fill="#2f2f2f"/>
<polygon points="219.3,395.2 221.7,393.5 225.1,392.5 228.8,392.4 232.2,393.2 234.6,394.7 235.5,396.7 234.7,398.8 230,404.7 227.6,406.5 224.1,407.6 220.2,407.7 216.7,406.9 214.3,405.2 213.5,403.1 214.4,400.9" fill="#979797"/>
<polygon points="197.4,418.4 200.5,416.1 204.9,414.7 209.7,414.6 214,415.7 217,417.7 218.1,420.5 217,423.3 207.6,435.1 204.4,437.6 199.7,439.1 194.5,439.3 190,438.1 187,435.8 186.1,432.8 187.4,429.8" fill="#cdcdcd"/>
<polygon points="199.8,417.9 202.4,416 206.1,414.8 210.1,414.7 213.7,415.5 216.1,417.3 217,419.6 216,422 206.4,434 203.6,436.1 199.7,437.4 195.5,437.6 191.7,436.6 189.2,434.6 188.5,432.2 189.7,429.6" fill="#4e4e4e"/>
<polygon points="194.7,423.8 197.4,421.8 201.1,420.6 205.2,420.5 208.9,421.4 211.3,423.2 212.2,425.6 211.2,428 206.4,434 203.6,436.1 199.7,437.4 195.5,437.6 191.7,436.6 189.2,434.6 188.5,432.2 189.7,429.6" fill="#efefef"/>
<polygon points="169.8,450.2 173.4,447.5 178.3,445.9 183.6,445.7 188.2,447 191.3,449.4 192.3,452.6 190.9,456 179.6,470 175.9,473 170.6,474.8 165,475.1 160.1,473.6 156.9,470.9 156.2,467.4 158,463.8" fill="#cdcdcd"/>
<polygon points="172.5,449.6 175.5,447.3 179.6,446 184,445.8 187.8,446.8 190.4,448.9 191.1,451.6 189.9,454.4 178.4,468.7 175.2,471.2 170.8,472.8 166.1,473 162.1,471.9 159.5,469.6 159,466.6 160.4,463.6" fill="#4e4e4e"/>
<polygon points="166.4,456.7 169.5,454.3 173.7,452.9 178.2,452.7 182.1,453.7 184.6,455.9 185.4,458.7 184.1,461.6 178.4,468.7 175.2,471.2 170.8,472.8 166.1,473 162.1,471.9 159.5,469.6 159,466.6 160.4,463.6" fill="#efefef"/>
<polygon points="136.8,488.2 141,485 146.6,483 152.4,482.8 157.3,484.3 160.6,487.2 161.4,491 159.5,495.1 145.9,512 141.5,515.7 135.5,518 129.2,518.3 124,516.6 120.8,513.2 120.3,509 122.6,504.7" fill="#cdcdcd"/>
<polygon points="139.8,487.6 143.4,484.8 148,483.1 152.8,482.9 156.9,484.1 159.6,486.6 160.2,489.8 158.6,493.2 144.7,510.5 140.9,513.6 135.9,515.5 130.7,515.8 126.4,514.4 123.7,511.6 123.4,508 125.3,504.4" fill="#4e4e4e"/>
<polygon points="132.5,496 136.2,493.1 140.9,491.4 145.9,491.2 150,492.4 152.7,495 153.2,498.4 151.6,501.9 144.7,510.5 140.9,513.6 135.9,515.5 130.7,515.8 126.4,514.4 123.7,511.6 123.4,508 125.3,504.4" fill="#efefef"/>
<polygon points="96.8,534.4 101.8,530.4 108.1,528.1 114.6,527.7 119.9,529.5 123.2,533.1 123.8,537.8 121.4,542.7 104.6,563.7 99.2,568.3 92.3,571.1 85.2,571.5 79.5,569.4 76.3,565.3 76.2,560 79.2,554.7" fill="#cdcdcd"/>
<polygon points="100.2,533.6 104.4,530.2 109.7,528.2 115.1,527.8 119.5,529.3 122.2,532.3 122.6,536.3 120.5,540.4 103.3,561.8 98.8,565.6 93,568 87.2,568.4 82.4,566.7 79.8,563.3 79.8,558.9 82.3,554.4" fill="#4e4e4e"/>
<polygon points="91.2,544 95.6,540.5 101,538.3 106.5,538 111.1,539.5 113.7,542.7 114.1,546.8 111.9,551.1 103.3,561.8 98.8,565.6 93,568 87.2,568.4 82.4,566.7 79.8,563.3 79.8,558.9 82.3,554.4" fill="#efefef"/>
<polygon points="47,591.8 53.1,586.8 60.5,583.8 67.8,583.3 73.6,585.5 77,590 77.1,595.8 73.8,602.1 52.5,628.6 46,634.5 37.8,638.1 29.7,638.7 23.5,636 20.3,630.8 20.9,624.2 24.9,617.4" fill="#cdcdcd"/>
<polygon points="51,590.7 56.1,586.5 62.3,583.9 68.3,583.5 73.2,585.3 75.9,589 75.9,594 73.1,599.2 51.3,626.2 45.8,631.1 39,634.2 32.3,634.7 27.1,632.6 24.5,628.2 25,622.6 28.4,616.9" fill="#4e4e4e"/>
<polygon points="39.7,603.9 45,599.4 51.4,596.7 57.6,596.2 62.6,598.1 65.3,602 65.1,607.2 62.2,612.7 51.3,626.2 45.8,631.1 39,634.2 32.3,634.7 27.1,632.6 24.5,628.2 25,622.6 28.4,616.9" fill="#efefef"/>
<polygon points="265.8,373.4 268.1,371.7 271.7,370.7 275.9,370.6 279.8,371.4 282.7,373 284.1,375.1 283.6,377.3 258.9,412.2 256.1,414.4 252,415.8 247.2,415.9 242.8,414.8 239.7,412.8 238.5,410.2 239.4,407.6" fill="#a6a6a6"/>
<polygon points="267.8,373.1 269.8,371.6 272.8,370.7 276.2,370.6 279.5,371.3 281.9,372.7 283,374.4 282.5,376.3 257.6,411.2 255.3,413.1 251.8,414.3 247.9,414.4 244.2,413.5 241.7,411.8 240.7,409.6 241.5,407.4" fill="#2f2f2f"/>
<polygon points="264.9,376.9 266.9,375.4 269.9,374.5 273.4,374.4 276.7,375.1 279.1,376.5 280.2,378.3 279.7,380.2 257.6,411.2 255.3,413.1 251.8,414.3 247.9,414.4 244.2,413.5 241.7,411.8 240.7,409.6 241.5,407.4" fill="#8f8f8f"/>
<polygon points="225.6,425.4 228.6,423.1 232.9,421.7 237.8,421.5 242.3,422.6 245.5,424.8 246.8,427.6 245.9,430.5 211.6,479 208,482.2 202.8,484.1 197,484.3 192,482.9 188.6,480 187.6,476.3 189.1,472.6" fill="#cdcdcd"/>
<polygon points="228,425 230.5,422.9 234.2,421.8 238.2,421.6 241.9,422.5 244.5,424.3 245.6,426.7 244.8,429.2 210.2,477.7 207.2,480.3 202.8,482 198.1,482.2 193.9,481 191.1,478.6 190.3,475.5 191.6,472.4" fill="#4e4e4e"/>
<polygon points="223.3,431.1 225.9,429 229.6,427.8 233.7,427.6 237.5,428.6 240.1,430.4 241.1,432.9 240.3,435.4 210.2,477.7 207.2,480.3 202.8,482 198.1,482.2 193.9,481 191.1,478.6 190.3,475.5 191.6,472.4" fill="#efefef"/>
<polygon points="169.4,498.1 173.5,494.7 179,492.7 184.8,492.4 190,493.9 193.5,497 194.6,501 193.1,505.2 142.2,577 137.1,581.8 130.3,584.8 123.1,585.2 117.1,583 113.5,578.7 113,573.2 115.7,567.6" fill="#cdcdcd"/>
<polygon points="172.4,497.4 175.8,494.5 180.4,492.7 185.3,492.5 189.6,493.8 192.4,496.3 193.3,499.7 192,503.2 140.8,575 136.5,579 130.8,581.5 124.8,582 119.9,580.2 116.9,576.6 116.6,572 118.8,567.2" fill="#4e4e4e"/>
<polygon points="165.7,506.2 169.2,503.2 173.9,501.4 178.9,501.1 183.2,502.4 186.1,505.1 186.9,508.6 185.5,512.3 140.8,575 136.5,579 130.8,581.5 124.8,582 119.9,580.2 116.9,576.6 116.6,572 118.8,567.2" fill="#efefef"/>
<polygon points="85.6,606.6 91.4,601.3 98.7,598.1 106.1,597.7 112.3,600 116,604.6 116.5,610.8 113.7,617.4 30.7,734.5 22.7,742.8 12.8,747.9 3.2,748.8 -4.1,745.1 -7.6,737.9 -6.5,728.6 -1.4,719.1" fill="#cdcdcd"/>
<polygon points="89.5,605.5 94.4,601 100.5,598.2 106.7,597.8 111.8,599.7 114.8,603.6 115.2,608.8 112.7,614.3 29.4,731.2 22.6,738.1 14.4,742.4 6.4,743.2 0.4,740.3 -2.4,734.2 -1.5,726.4 2.8,718.5" fill="#4e4e4e"/>
<polygon points="78.9,619.3 84,614.5 90.3,611.7 96.7,611.2 101.9,613.2 104.9,617.3 105.2,622.8 102.5,628.6 29.4,731.2 22.6,738.1 14.4,742.4 6.4,743.2 0.4,740.3 -2.4,734.2 -1.5,726.4 2.8,718.5" fill="#efefef"/>
<polygon points="291.3,379 293.6,377.2 297.1,376.1 301.3,376 305.3,376.9 308.4,378.5 309.9,380.7 309.6,382.9 303.9,392.1 301.7,394.1 297.9,395.2 293.5,395.4 289.3,394.4 286.1,392.6 284.7,390.3 285.2,387.9" fill="#a6a6a6"/>
<polygon points="293.3,378.6 295.2,377.1 298.2,376.2 301.7,376.1 305,376.8 307.5,378.2 308.8,380 308.5,381.9 302.6,391.3 300.7,392.9 297.6,393.9 293.9,394 290.4,393.3 287.8,391.7 286.7,389.8 287.1,387.8" fill="#2f2f2f"/>
<polygon points="290.7,382.6 292.6,381 295.6,380.1 299.1,380 302.5,380.7 305,382.1 306.3,384 306,385.9 302.6,391.3 300.7,392.9 297.6,393.9 293.9,394 290.4,393.3 287.8,391.7 286.7,389.8 287.1,387.8" fill="#979797"/>
<polygon points="274.4,403.8 277,401.7 280.9,400.5 285.4,400.3 289.7,401.3 292.9,403.2 294.5,405.7 294,408.3 287.4,419 284.8,421.3 280.7,422.7 275.9,422.9 271.4,421.8 268,419.6 266.6,417 267.3,414.2" fill="#a6a6a6"/>
<polygon points="276.6,403.4 278.7,401.6 282,400.5 285.8,400.4 289.3,401.2 292,402.8 293.2,404.9 292.8,407.1 286,418 283.8,420 280.4,421.2 276.4,421.3 272.7,420.4 270,418.6 268.8,416.4 269.4,414.1" fill="#2f2f2f"/>
<polygon points="273.5,407.9 275.7,406.1 279,405 282.8,404.9 286.4,405.7 289.1,407.4 290.4,409.5 289.9,411.8 286,418 283.8,420 280.4,421.2 276.4,421.3 272.7,420.4 270,418.6 268.8,416.4 269.4,414.1" fill="#979797"/>
<polygon points="254.7,432.8 257.6,430.3 261.9,428.9 266.8,428.7 271.4,429.8 274.8,432.1 276.4,435 275.7,438 267.9,450.7 265,453.4 260.4,455 255.1,455.2 250.3,454 246.8,451.5 245.4,448.3 246.3,445.1" fill="#cdcdcd"/>
<polygon points="257.1,432.3 259.5,430.2 263.1,428.9 267.2,428.8 271,429.7 273.8,431.6 275.1,434 274.5,436.6 266.5,449.5 264,451.8 260.2,453.2 255.8,453.4 251.8,452.4 249,450.3 247.8,447.6 248.6,444.9" fill="#4e4e4e"/>
<polygon points="252.8,438.6 255.3,436.5 259,435.2 263.1,435 267,436 269.8,437.9 271.1,440.5 270.4,443.1 266.5,449.5 264,451.8 260.2,453.2 255.8,453.4 251.8,452.4 249,450.3 247.8,447.6 248.6,444.9" fill="#efefef"/>
<polygon points="231.4,467.1 234.7,464.1 239.5,462.4 244.9,462.2 249.8,463.5 253.4,466.2 255,469.6 254,473.2 244.7,488.4 241.3,491.7 236.2,493.7 230.4,494 225.1,492.4 221.4,489.5 220.1,485.7 221.4,481.8" fill="#cdcdcd"/>
<polygon points="234.1,466.5 236.8,464 240.8,462.5 245.3,462.3 249.4,463.4 252.4,465.6 253.6,468.5 252.8,471.6 243.2,487 240.3,489.8 236.1,491.5 231.2,491.7 226.9,490.5 223.9,488 222.8,484.8 223.9,481.6" fill="#4e4e4e"/>
<polygon points="229,474.1 231.8,471.5 235.9,469.9 240.5,469.7 244.6,470.9 247.6,473.2 248.8,476.2 248,479.3 243.2,487 240.3,489.8 236.1,491.5 231.2,491.7 226.9,490.5 223.9,488 222.8,484.8 223.9,481.6" fill="#efefef"/>
<polygon points="203.4,508.3 207.2,504.7 212.6,502.6 218.6,502.4 224,504 227.7,507.1 229.2,511.3 227.9,515.7 216.5,534.2 212.5,538.2 206.7,540.7 200.2,541 194.5,539.2 190.6,535.6 189.5,530.9 191.2,526.2" fill="#cdcdcd"/>
<polygon points="206.4,507.6 209.6,504.5 214.1,502.7 219.1,502.5 223.5,503.8 226.6,506.4 227.8,510 226.7,513.7 215,532.5 211.6,535.9 206.7,538 201.4,538.3 196.6,536.8 193.5,533.8 192.6,529.9 194,525.9" fill="#4e4e4e"/>
<polygon points="200.1,516.8 203.5,513.7 208.1,511.8 213.2,511.5 217.7,512.9 220.8,515.6 222,519.3 220.8,523.1 215,532.5 211.6,535.9 206.7,538 201.4,538.3 196.6,536.8 193.5,533.8 192.6,529.9 194,525.9" fill="#efefef"/>
<polygon points="169,558.8 173.6,554.4 179.8,551.8 186.5,551.4 192.3,553.4 196.3,557.2 197.6,562.4 195.9,567.8 181.7,590.9 176.8,596 170.1,599.1 162.7,599.6 156.4,597.3 152.5,592.8 151.6,587 153.9,581.1" fill="#cdcdcd"/>
<polygon points="172.4,557.9 176.3,554.1 181.5,551.9 187,551.5 191.9,553.1 195.1,556.4 196.1,560.7 194.6,565.3 180,588.8 176,593.1 170.3,595.7 164.3,596.2 159.1,594.3 155.8,590.5 155.1,585.7 157,580.7" fill="#4e4e4e"/>
<polygon points="164.7,569.3 168.7,565.4 174,563.1 179.7,562.7 184.7,564.4 187.9,567.8 188.9,572.3 187.3,577.1 180,588.8 176,593.1 170.3,595.7 164.3,596.2 159.1,594.3 155.8,590.5 155.1,585.7 157,580.7" fill="#efefef"/>
<polygon points="126,622.1 131.6,616.5 138.8,613.2 146.4,612.7 152.8,615.1 156.9,620 158,626.5 155.5,633.4 137.3,663 131.3,669.5 123.3,673.6 114.9,674.2 108,671.3 103.9,665.5 103.5,658.1 106.6,650.6" fill="#cdcdcd"/>
<polygon points="129.9,620.9 134.6,616.2 140.7,613.3 146.9,612.8 152.3,614.8 155.7,618.9 156.4,624.4 154.3,630.2 135.7,660.3 130.6,665.8 123.9,669.2 117,669.8 111.3,667.5 107.9,662.6 107.6,656.4 110.3,650" fill="#4e4e4e"/>
<polygon points="120.1,635.5 125,630.5 131.3,627.5 137.7,627 143.2,629.1 146.6,633.4 147.2,639.1 145,645.3 135.7,660.3 130.6,665.8 123.9,669.2 117,669.8 111.3,667.5 107.9,662.6 107.6,656.4 110.3,650" fill="#efefef"/>
<polygon points="317.6,384.6 319.7,382.8 323.2,381.7 327.4,381.6 331.6,382.5 334.8,384.2 336.5,386.4 336.4,388.7 316.8,426.1 314.4,428.5 310.4,429.9 305.5,430 300.8,428.9 297.3,426.7 295.6,423.9 296.1,421.1" fill="#a6a6a6"/>
<polygon points="319.6,384.3 321.3,382.7 324.3,381.8 327.8,381.7 331.2,382.4 333.9,383.8 335.3,385.7 335.1,387.6 315.4,425 313.3,427.1 310,428.3 305.9,428.4 302.1,427.5 299.2,425.7 297.8,423.3 298.2,421" fill="#2f2f2f"/>
<polygon points="317.2,388.4 319,386.7 322,385.8 325.5,385.7 329,386.4 331.7,387.9 333.1,389.8 332.9,391.8 315.4,425 313.3,427.1 310,428.3 305.9,428.4 302.1,427.5 299.2,425.7 297.8,423.3 298.2,421" fill="#8f8f8f"/>
<polygon points="284.9,440.3 287.6,437.8 291.8,436.3 296.8,436.1 301.5,437.3 305.2,439.6 307,442.6 306.5,445.8 279.1,498.2 275.9,501.6 270.9,503.7 265,504 259.5,502.4 255.6,499.3 253.9,495.3 254.9,491.3" fill="#cdcdcd"/>
<polygon points="287.3,439.8 289.5,437.6 293.1,436.3 297.2,436.2 301.1,437.1 304.1,439.1 305.6,441.6 305.2,444.3 277.5,496.7 274.8,499.6 270.6,501.4 265.7,501.7 261.2,500.4 257.9,497.8 256.6,494.4 257.4,491" fill="#4e4e4e"/>
<polygon points="283.4,446.4 285.7,444.2 289.3,442.8 293.6,442.7 297.6,443.7 300.6,445.7 302,448.3 301.6,451 277.5,496.7 274.8,499.6 270.6,501.4 265.7,501.7 261.2,500.4 257.9,497.8 256.6,494.4 257.4,491" fill="#efefef"/>
<polygon points="238.7,518.9 242.3,515.2 247.6,513 253.7,512.7 259.3,514.4 263.4,517.7 265.2,522.1 264.2,526.6 223,605.5 218.4,610.8 211.8,614.1 204.3,614.6 197.7,612.2 193.3,607.5 192,601.4 193.8,595.2" fill="#cdcdcd"/>
<polygon points="241.7,518.2 244.7,515 249.2,513.1 254.2,512.8 258.8,514.2 262.2,517 263.6,520.7 262.8,524.5 221.1,603.3 217.3,607.8 211.8,610.6 205.6,611 200.2,609.1 196.5,605.1 195.5,600 197.1,594.8" fill="#4e4e4e"/>
<polygon points="236,527.8 239.2,524.5 243.8,522.6 248.9,522.3 253.6,523.7 257,526.6 258.4,530.4 257.5,534.4 221.1,603.3 217.3,607.8 211.8,610.6 205.6,611 200.2,609.1 196.5,605.1 195.5,600 197.1,594.8" fill="#efefef"/>
<polygon points="344.6,390.5 346.6,388.6 350,387.5 354.3,387.4 358.5,388.3 362,390 363.9,392.3 363.9,394.7 359.7,404.5 357.7,406.6 354.1,407.9 349.5,408 345,407 341.5,405 339.7,402.6 339.8,400.1" fill="#a6a6a6"/>
<polygon points="346.6,390.1 348.2,388.5 351.1,387.5 354.7,387.4 358.2,388.2 361,389.6 362.6,391.6 362.6,393.6 358.2,403.6 356.5,405.4 353.5,406.5 349.8,406.6 346.1,405.8 343.1,404.1 341.6,402.1 341.8,399.9" fill="#2f2f2f"/>
<polygon points="344.5,394.3 346.2,392.7 349.1,391.7 352.7,391.6 356.3,392.3 359.1,393.8 360.7,395.8 360.7,397.9 358.2,403.6 356.5,405.4 353.5,406.5 349.8,406.6 346.1,405.8 343.1,404.1 341.6,402.1 341.8,399.9" fill="#979797"/>
<polygon points="331.4,417 333.7,414.8 337.5,413.5 342.1,413.3 346.6,414.4 350.3,416.4 352.3,419.1 352.2,421.8 347.3,433.3 345,435.8 341,437.3 336.1,437.5 331.3,436.3 327.5,434 325.6,431.1 325.9,428.2" fill="#a6a6a6"/>
<polygon points="333.6,416.6 335.5,414.7 338.6,413.5 342.5,413.4 346.2,414.3 349.2,416 350.9,418.2 350.8,420.5 345.7,432.3 343.8,434.4 340.5,435.6 336.4,435.8 332.4,434.8 329.3,432.9 327.7,430.5 328,428.1" fill="#2f2f2f"/>
<polygon points="331.2,421.5 333.1,419.5 336.3,418.4 340.2,418.2 344,419.1 347.1,420.9 348.7,423.2 348.6,425.6 345.7,432.3 343.8,434.4 340.5,435.6 336.4,435.8 332.4,434.8 329.3,432.9 327.7,430.5 328,428.1" fill="#979797"/>
<polygon points="316,448.1 318.5,445.5 322.7,443.9 327.7,443.8 332.7,445 336.5,447.4 338.6,450.5 338.4,453.8 332.5,467.4 330,470.4 325.5,472.1 320.1,472.4 314.9,471 310.9,468.3 309,464.9 309.4,461.4" fill="#cdcdcd"/>
<polygon points="318.4,447.6 320.5,445.3 324,444 328.2,443.8 332.2,444.8 335.4,446.8 337.1,449.5 336.9,452.2 330.9,466.2 328.7,468.7 325,470.2 320.6,470.4 316.2,469.3 313,467 311.4,464.1 311.7,461.2" fill="#4e4e4e"/>
<polygon points="315,454.5 317.2,452.1 320.8,450.7 325,450.6 329.2,451.6 332.4,453.7 334.1,456.4 333.9,459.3 330.9,466.2 328.7,468.7 325,470.2 320.6,470.4 316.2,469.3 313,467 311.4,464.1 311.7,461.2" fill="#efefef"/>
<polygon points="297.6,485.2 300.5,482 305.2,480.1 310.7,479.9 316.1,481.3 320.2,484.2 322.3,487.9 322,491.8 314.9,508.3 311.9,511.9 306.9,514.1 301,514.4 295.3,512.7 291,509.5 289.1,505.4 289.7,501.2" fill="#cdcdcd"/>
<polygon points="300.3,484.5 302.7,481.8 306.6,480.2 311.2,480 315.6,481.2 319,483.6 320.8,486.7 320.4,490 313.1,506.8 310.6,509.8 306.5,511.7 301.5,512 296.8,510.6 293.3,507.9 291.7,504.4 292.3,500.9" fill="#4e4e4e"/>
<polygon points="296.3,492.8 298.8,490 302.7,488.3 307.4,488.1 311.9,489.3 315.4,491.8 317.1,495 316.7,498.5 313.1,506.8 310.6,509.8 306.5,511.7 301.5,512 296.8,510.6 293.3,507.9 291.7,504.4 292.3,500.9" fill="#efefef"/>
<polygon points="275.4,530 278.8,526.1 284.1,523.8 290.2,523.5 296,525.3 300.4,528.7 302.6,533.3 302,538.1 293.3,558.3 289.8,562.7 284.1,565.4 277.5,565.8 271.2,563.8 266.7,559.9 264.7,554.8 265.7,549.6" fill="#cdcdcd"/>
<polygon points="278.4,529.2 281.2,525.9 285.6,523.9 290.7,523.6 295.5,525.1 299.2,528 300.9,531.8 300.4,535.8 291.4,556.5 288.4,560.2 283.7,562.5 278.2,562.9 273.1,561.2 269.3,557.9 267.7,553.6 268.5,549.3" fill="#4e4e4e"/>
<polygon points="273.4,539.3 276.4,535.9 280.9,533.8 286.1,533.5 291,535 294.7,538 296.4,542 295.9,546.2 291.4,556.5 288.4,560.2 283.7,562.5 278.2,562.9 273.1,561.2 269.3,557.9 267.7,553.6 268.5,549.3" fill="#efefef"/>
<polygon points="248,585.4 252,580.6 258,577.7 264.9,577.3 271.3,579.4 276.1,583.6 278.2,589.3 277.3,595.3 266.3,620.8 262.1,626.4 255.5,629.9 248,630.4 241,627.9 236.2,622.9 234.3,616.5 235.8,610" fill="#cdcdcd"/>
<polygon points="251.3,584.4 254.7,580.3 259.8,577.8 265.5,577.4 270.8,579.1 274.7,582.7 276.4,587.5 275.6,592.5 264.3,618.5 260.7,623.2 255.3,626.2 249,626.7 243.3,624.6 239.3,620.4 237.8,615.1 239,609.6" fill="#4e4e4e"/>
<polygon points="245.2,597 248.7,592.7 253.9,590.1 259.7,589.7 265.1,591.5 269.1,595.3 270.8,600.2 269.9,605.5 264.3,618.5 260.7,623.2 255.3,626.2 249,626.7 243.3,624.6 239.3,620.4 237.8,615.1 239,609.6" fill="#efefef"/>
<polygon points="372.4,396.5 374.2,394.5 377.6,393.4 381.9,393.3 386.3,394.2 389.9,396 392.1,398.4 392.3,400.8 378.7,440.9 376.6,443.4 372.7,445 367.7,445.1 362.7,443.9 358.7,441.6 356.5,438.6 356.6,435.6" fill="#a6a6a6"/>
<polygon points="374.4,396.1 375.9,394.4 378.8,393.4 382.3,393.3 386,394.1 388.9,395.6 390.7,397.6 390.9,399.7 377,439.8 375.2,441.9 372,443.2 367.9,443.4 363.7,442.4 360.5,440.5 358.7,437.9 358.7,435.4" fill="#2f2f2f"/>
<polygon points="372.6,400.5 374.2,398.8 377.1,397.7 380.7,397.6 384.4,398.4 387.4,400 389.2,402 389.3,404.1 377,439.8 375.2,441.9 372,443.2 367.9,443.4 363.7,442.4 360.5,440.5 358.7,437.9 358.7,435.4" fill="#8f8f8f"/>
<polygon points="348.2,456.2 350.6,453.5 354.7,451.9 359.8,451.7 364.9,452.9 369,455.4 371.4,458.7 371.5,462 352.1,518.9 349.4,522.6 344.5,524.9 338.4,525.2 332.5,523.5 327.9,520.1 325.6,515.8 325.9,511.4" fill="#cdcdcd"/>
<polygon points="350.6,455.7 352.6,453.3 356,451.9 360.2,451.7 364.4,452.8 367.8,454.9 369.8,457.6 369.8,460.5 350.1,517.3 347.8,520.4 343.8,522.4 338.8,522.7 333.9,521.3 330.1,518.5 328.2,514.8 328.5,511.2" fill="#4e4e4e"/>
<polygon points="347.8,462.8 349.8,460.4 353.3,458.9 357.6,458.7 361.9,459.8 365.3,462 367.3,464.8 367.3,467.8 350.1,517.3 347.8,520.4 343.8,522.4 338.8,522.7 333.9,521.3 330.1,518.5 328.2,514.8 328.5,511.2" fill="#efefef"/>
<polygon points="313.7,541.6 316.9,537.5 322,535.1 328.2,534.8 334.3,536.6 339.1,540.2 341.7,544.9 341.5,549.9 311.8,636.9 308,642.8 301.6,646.5 293.9,647.1 286.6,644.4 281.2,639.1 278.8,632.4 279.7,625.6" fill="#cdcdcd"/>
<polygon points="316.7,540.7 319.3,537.3 323.6,535.2 328.7,534.9 333.8,536.4 337.7,539.4 339.8,543.4 339.6,547.6 309.5,634.4 306.3,639.4 301,642.5 294.6,643.1 288.6,640.9 284.2,636.5 282.2,630.9 283,625.1" fill="#4e4e4e"/>
<polygon points="312.5,551.3 315.2,547.7 319.6,545.5 324.8,545.2 330,546.7 334,549.9 336.1,554.1 335.9,558.5 309.5,634.4 306.3,639.4 301,642.5 294.6,643.1 288.6,640.9 284.2,636.5 282.2,630.9 283,625.1" fill="#efefef"/>
<polygon points="369,504.7 371.5,501.3 376,499.2 381.6,498.9 387.3,500.5 392.1,503.6 395,507.6 395.3,511.9 390.8,529.8 388.3,533.7 383.6,536.1 377.5,536.5 371.3,534.7 366.3,531.2 363.6,526.7 363.5,522.1" fill="#cdcdcd"/>
<polygon points="371.6,504 373.7,501.1 377.4,499.3 382.1,499 386.9,500.3 390.8,502.9 393.1,506.3 393.4,509.9 388.7,528.2 386.6,531.5 382.7,533.5 377.6,533.8 372.5,532.4 368.4,529.4 366.2,525.7 366.1,521.8" fill="#4e4e4e"/>
<polygon points="368.9,513 371,509.9 374.8,508.1 379.6,507.8 384.4,509.1 388.4,511.8 390.8,515.4 391,519.1 388.7,528.2 386.6,531.5 382.7,533.5 377.6,533.8 372.5,532.4 368.4,529.4 366.2,525.7 366.1,521.8" fill="#efefef"/>
<polygon points="353.6,553.6 356.5,549.4 361.6,546.8 367.8,546.5 374.2,548.4 379.4,552.1 382.4,557.1 382.6,562.4 377.1,584.6 374.2,589.5 368.8,592.5 361.9,592.9 355,590.7 349.6,586.4 346.7,580.8 346.9,575.1" fill="#cdcdcd"/>
<polygon points="356.6,552.7 359,549.1 363.2,547 368.4,546.6 373.6,548.2 377.9,551.3 380.4,555.5 380.5,559.9 374.7,582.6 372.3,586.7 367.8,589.2 362.2,589.7 356.5,587.9 352.1,584.2 349.7,579.5 349.8,574.8" fill="#4e4e4e"/>
<polygon points="353.2,563.8 355.6,560 360,557.7 365.3,557.4 370.6,559 375,562.3 377.5,566.7 377.6,571.3 374.7,582.6 372.3,586.7 367.8,589.2 362.2,589.7 356.5,587.9 352.1,584.2 349.7,579.5 349.8,574.8" fill="#efefef"/>
<polygon points="334.5,614.6 337.9,609.2 343.7,606 350.8,605.6 357.8,607.9 363.5,612.6 366.7,618.8 366.8,625.5 359.7,653.8 356.3,660.1 350,663.9 342.2,664.6 334.5,661.8 328.5,656.2 325.5,649.1 325.9,641.9" fill="#cdcdcd"/>
<polygon points="337.9,613.5 340.7,608.9 345.5,606.2 351.4,605.7 357.2,607.6 361.9,611.6 364.5,616.8 364.5,622.4 357.2,651.2 354.3,656.5 349.1,659.8 342.6,660.4 336.3,658.1 331.4,653.4 328.9,647.5 329.3,641.4" fill="#4e4e4e"/>
<polygon points="333.6,627.4 336.5,622.6 341.4,619.8 347.5,619.3 353.4,621.3 358.2,625.4 360.9,631 360.8,636.8 357.2,651.2 354.3,656.5 349.1,659.8 342.6,660.4 336.3,658.1 331.4,653.4 328.9,647.5 329.3,641.4" fill="#efefef"/>
<polygon points="395.3,566.2 397.9,561.7 402.8,559.1 409.2,558.7 415.8,560.7 421.4,564.6 424.9,569.8 425.6,575.3 410.1,671.6 407.1,678.2 401,682.3 393.1,683 385,680.1 378.4,674.2 374.7,666.7 374.5,659.1" fill="#cdcdcd"/>
<polygon points="398.3,565.3 400.4,561.5 404.5,559.2 409.8,558.8 415.2,560.5 419.9,563.8 422.8,568.1 423.3,572.8 407.3,668.9 404.8,674.5 399.7,677.9 393.2,678.6 386.5,676.1 381.1,671.3 378,665 377.9,658.5" fill="#4e4e4e"/>
<polygon points="395.7,576.8 397.9,572.9 402.1,570.5 407.5,570.1 413.1,571.8 417.8,575.3 420.8,579.9 421.3,584.7 407.3,668.9 404.8,674.5 399.7,677.9 393.2,678.6 386.5,676.1 381.1,671.3 378,665 377.9,658.5" fill="#efefef"/>
</g>
<circle cx="189.3" cy="460" r="153.8" fill="none" stroke="#e17a2b" stroke-width="6.2"/>
<g clip-path="url(#c2)">
<rect x="1240" y="550" width="330" height="330" fill="#ffffff"/>
<polygon points="1246,588 1320,589.6 1346.6,595 1346.6,874 1246,874" fill="#292929"/>
<polygon points="1246,588 1320,589.6 1346.6,595 1346.6,614 1246,608" fill="#323232"/>
<line x1="1308.2" y1="607.6" x2="1311.8" y2="607.2" stroke="#9e9e9e" stroke-width="4.4" stroke-linecap="round"/>
<line x1="1291.2" y1="623" x2="1345.8" y2="618.8" stroke="#9e9e9e" stroke-width="4.4" stroke-linecap="round"/>
<line x1="1323.2" y1="636" x2="1345.8" y2="634" stroke="#9e9e9e" stroke-width="4.4" stroke-linecap="round"/>
<line x1="1273.2" y1="652" x2="1312.8" y2="648" stroke="#9e9e9e" stroke-width="4.4" stroke-linecap="round"/>
<line x1="1278.2" y1="667" x2="1345.8" y2="662" stroke="#9e9e9e" stroke-width="4.4" stroke-linecap="round"/>
<line x1="1328.2" y1="678" x2="1345.8" y2="676" stroke="#9e9e9e" stroke-width="4.4" stroke-linecap="round"/>
<line x1="1260.2" y1="681" x2="1267.8" y2="680.4" stroke="#9e9e9e" stroke-width="4.4" stroke-linecap="round"/>
<line x1="1259.2" y1="697" x2="1316.8" y2="692" stroke="#9e9e9e" stroke-width="4.4" stroke-linecap="round"/>
<line x1="1282.2" y1="711" x2="1345.8" y2="706" stroke="#9e9e9e" stroke-width="4.4" stroke-linecap="round"/>
<line x1="1331.2" y1="723" x2="1345.8" y2="721" stroke="#9e9e9e" stroke-width="4.4" stroke-linecap="round"/>
<line x1="1258.2" y1="726" x2="1270.8" y2="725" stroke="#9e9e9e" stroke-width="4.4" stroke-linecap="round"/>
<line x1="1260.2" y1="742" x2="1320.8" y2="737" stroke="#9e9e9e" stroke-width="4.4" stroke-linecap="round"/>
<line x1="1285.2" y1="757" x2="1345.8" y2="752" stroke="#9e9e9e" stroke-width="4.4" stroke-linecap="round"/>
<line x1="1336.2" y1="770" x2="1345.8" y2="769" stroke="#9e9e9e" stroke-width="4.4" stroke-linecap="round"/>
<line x1="1268.2" y1="772" x2="1273.8" y2="771.6" stroke="#9e9e9e" stroke-width="4.4" stroke-linecap="round"/>
<line x1="1276.2" y1="788" x2="1324.8" y2="783" stroke="#9e9e9e" stroke-width="4.4" stroke-linecap="round"/>
<line x1="1291.2" y1="805" x2="1345.8" y2="800" stroke="#9e9e9e" stroke-width="4.4" stroke-linecap="round"/>
<line x1="1341.2" y1="818" x2="1345.8" y2="817.6" stroke="#9e9e9e" stroke-width="4.4" stroke-linecap="round"/>
<line x1="1314.2" y1="834" x2="1329.8" y2="832" stroke="#9e9e9e" stroke-width="4.4" stroke-linecap="round"/>
<line x1="1308.2" y1="850" x2="1345.8" y2="847" stroke="#9e9e9e" stroke-width="4.4" stroke-linecap="round"/>
<rect x="1463" y="550" width="110" height="330" fill="url(#g2r)"/>
<polygon points="1463,554 1566,554 1566,642 1546,638 1506,626 1463,620" fill="#a6a6a6" opacity=".75"/>
<path d="M1463 621 Q1506 622 1558 644" stroke="#555" stroke-width="5" fill="none" opacity=".55"/>
<line x1="1479.8" y1="669" x2="1544.2" y2="663" stroke="#8e8e8e" stroke-width="3.6" stroke-linecap="round" opacity=".7"/>
<line x1="1531.8" y1="680" x2="1554.2" y2="678" stroke="#8e8e8e" stroke-width="3.6" stroke-linecap="round" opacity=".7"/>
<line x1="1467.8" y1="698" x2="1516.2" y2="694" stroke="#8e8e8e" stroke-width="3.6" stroke-linecap="round" opacity=".7"/>
<line x1="1487.8" y1="713" x2="1554.2" y2="707" stroke="#8e8e8e" stroke-width="3.6" stroke-linecap="round" opacity=".7"/>
<line x1="1466.8" y1="726" x2="1476.2" y2="725.6" stroke="#8e8e8e" stroke-width="3.6" stroke-linecap="round" opacity=".7"/>
<line x1="1537.8" y1="724" x2="1556.2" y2="723" stroke="#8e8e8e" stroke-width="3.6" stroke-linecap="round" opacity=".7"/>
<line x1="1466.8" y1="744" x2="1528.2" y2="738" stroke="#8e8e8e" stroke-width="3.6" stroke-linecap="round" opacity=".7"/>
<line x1="1495.8" y1="759" x2="1552.2" y2="754" stroke="#8e8e8e" stroke-width="3.6" stroke-linecap="round" opacity=".7"/>
<line x1="1466.8" y1="775" x2="1484.2" y2="774" stroke="#8e8e8e" stroke-width="3.6" stroke-linecap="round" opacity=".7"/>
<line x1="1467.8" y1="794" x2="1534.2" y2="787" stroke="#8e8e8e" stroke-width="3.6" stroke-linecap="round" opacity=".7"/>
<line x1="1467.8" y1="826" x2="1494.2" y2="823" stroke="#8e8e8e" stroke-width="3.6" stroke-linecap="round" opacity=".7"/>
<rect x="1346.6" y="550" width="116.4" height="330" fill="url(#g2p)"/>
<ellipse cx="1371.2" cy="573" rx="5.5" ry="6" fill="#d4d4d4"/>
<ellipse cx="1370.6" cy="625.6" rx="6.8" ry="7.4" fill="#e0e0e0"/>
<ellipse cx="1371.4" cy="625" rx="4.4" ry="5.4" fill="#3a3a3a" transform="rotate(-28 1371.4 625)"/>
<ellipse cx="1370.6" cy="681.6" rx="6.8" ry="7.4" fill="#e0e0e0"/>
<ellipse cx="1371.4" cy="681" rx="4.4" ry="5.4" fill="#3a3a3a" transform="rotate(-28 1371.4 681)"/>
<ellipse cx="1370.6" cy="724.6" rx="6.8" ry="7.4" fill="#e0e0e0"/>
<ellipse cx="1371.4" cy="724" rx="4.4" ry="5.4" fill="#3a3a3a" transform="rotate(-28 1371.4 724)"/>
<ellipse cx="1370.6" cy="779.6" rx="6.8" ry="7.4" fill="#e0e0e0"/>
<ellipse cx="1371.4" cy="779" rx="4.4" ry="5.4" fill="#3a3a3a" transform="rotate(-28 1371.4 779)"/>
<ellipse cx="1370.6" cy="833.6" rx="6.8" ry="7.4" fill="#e0e0e0"/>
<ellipse cx="1371.4" cy="833" rx="4.4" ry="5.4" fill="#3a3a3a" transform="rotate(-28 1371.4 833)"/>
<text x="1407" y="628" font-size="13.8" fill="#a2a2a2" text-anchor="middle" textLength="13.4" lengthAdjust="spacingAndGlyphs">05</text>
<line x1="1399.8" y1="634.4" x2="1414.2" y2="634.4" stroke="#a2a2a2" stroke-width="1.2"/>
<text transform="translate(1407 640.8) rotate(180)" font-size="13.8" fill="#a2a2a2" text-anchor="middle" textLength="13.4" lengthAdjust="spacingAndGlyphs">08</text>
<text x="1407" y="778" font-size="13.8" fill="#a2a2a2" text-anchor="middle" textLength="13.4" lengthAdjust="spacingAndGlyphs">04</text>
<line x1="1399.8" y1="784.4" x2="1414.2" y2="784.4" stroke="#a2a2a2" stroke-width="1.2"/>
<text transform="translate(1407 790.8) rotate(180)" font-size="13.8" fill="#a2a2a2" text-anchor="middle" textLength="13.4" lengthAdjust="spacingAndGlyphs">09</text>
<line x1="1400" y1="709" x2="1414.5" y2="711" stroke="#a2a2a2" stroke-width="1.2"/>
<line x1="1400" y1="859.5" x2="1414.5" y2="860.5" stroke="#a2a2a2" stroke-width="1.2"/>
</g>
<circle cx="1406.2" cy="714.2" r="153.5" fill="none" stroke="#e17a2b" stroke-width="6.2"/>
<g clip-path="url(#c3)">
<rect x="1240" y="895" width="330" height="330" fill="#ffffff"/>
<polygon points="1240,922 1346,927 1346,943 1240,936" fill="#eeeeee"/>
<polygon points="1240,1130 1346.5,1147 1346.5,1225 1240,1225" fill="#6a6a6a"/>
<ellipse cx="1300" cy="1165" rx="4" ry="1.8" fill="#222"/>
<ellipse cx="1320" cy="1170" rx="4" ry="1.8" fill="#222"/>
<ellipse cx="1338" cy="1158" rx="4" ry="1.8" fill="#222"/>
<ellipse cx="1335" cy="1173" rx="4" ry="1.8" fill="#222"/>
<polygon points="1295,1178 1320,1176 1312,1186 1290,1185" fill="#ffffff"/>
<rect x="1456" y="895" width="120" height="330" fill="url(#g3r)"/>
<polygon points="1456,915 1500,935 1456,930" fill="#808080"/>
<polygon points="1456,1165 1520,1168 1500,1225 1456,1225" fill="#8a8a8a"/>
<rect x="1346.5" y="895" width="109.5" height="330" fill="url(#g3p)"/>
<rect x="1355.5" y="955" width="27.5" height="33.5" rx="1" fill="#dadada"/>
<rect x="1357.2" y="956.8" width="25.8" height="30.5" rx="1" fill="#ffffff"/>
<rect x="1355.5" y="1007.6" width="27.5" height="33.8" rx="1" fill="#dadada"/>
<rect x="1357.2" y="1009.4" width="25.8" height="30.8" rx="1" fill="#ffffff"/>
<rect x="1355.5" y="1061.6" width="27.5" height="32.4" rx="1" fill="#dadada"/>
<rect x="1357.2" y="1063.4" width="25.8" height="29.4" rx="1" fill="#ffffff"/>
<rect x="1355.5" y="1102" width="27.5" height="34.6" rx="1" fill="#dadada"/>
<rect x="1357.2" y="1103.8" width="25.8" height="31.6" rx="1" fill="#ffffff"/>
<polygon points="1382,1012 1387,1020 1387,1028 1382,1034" fill="#ffffff"/>
<rect x="1357" y="1156" width="26" height="32" rx="1" fill="#dcdcdc"/>
<polygon points="1358.5,1157.5 1382,1160 1386,1172 1382,1186 1358.5,1186" fill="#555555"/>
<text x="1403.3" y="1022.2" font-size="13" fill="#a6a6a6" text-anchor="middle" textLength="12.2" lengthAdjust="spacingAndGlyphs">06</text>
<line x1="1396.7" y1="1028" x2="1409.9" y2="1028" stroke="#a6a6a6" stroke-width="1.2"/>
<text transform="translate(1403.3 1033.8) rotate(180)" font-size="13" fill="#a6a6a6" text-anchor="middle" textLength="12.2" lengthAdjust="spacingAndGlyphs">01</text>
<text x="1403.3" y="1172" font-size="13" fill="#a6a6a6" text-anchor="middle" textLength="12.2" lengthAdjust="spacingAndGlyphs">05</text>
<line x1="1396.7" y1="1177.8" x2="1409.9" y2="1177.8" stroke="#a6a6a6" stroke-width="1.2"/>
<text transform="translate(1403.3 1183.6) rotate(180)" font-size="13" fill="#a6a6a6" text-anchor="middle" textLength="12.2" lengthAdjust="spacingAndGlyphs">02</text>
<line x1="1397" y1="1101" x2="1410" y2="1101" stroke="#a6a6a6" stroke-width="1.2"/>
</g>
<circle cx="1406.2" cy="1060.5" r="153.5" fill="none" stroke="#e17a2b" stroke-width="6.2"/>
<g clip-path="url(#c4)">
<rect x="20" y="1060" width="340" height="330" fill="#ffffff"/>
<polygon points="30,1060 246,1060 253,1128 202,1205 30,1205" fill="url(#g4a)"/>
<polygon points="80,1110 120,1100 124,1156 124,1205 88,1205" fill="#cfcfcf" opacity=".75"/>
<polygon points="68,1134 76.4,1129.6 87,1205 72.4,1205" fill="#3f3f3f"/>
<polygon points="124,1156 148,1128 244,1082 252.4,1128 202,1205 124,1205" fill="#868686"/>
<polygon points="200,1120 244,1082 252.4,1128 202,1205 170,1205" fill="#7b7b7b"/>
<line x1="142" y1="1154" x2="140.4" y2="1198" stroke="#a2a2a2" stroke-width="1.8" opacity=".9"/>
<line x1="151" y1="1149.4" x2="149.4" y2="1197.2" stroke="#a2a2a2" stroke-width="1.8" opacity=".9"/>
<line x1="160" y1="1144.8" x2="158.4" y2="1196.4" stroke="#a2a2a2" stroke-width="1.8" opacity=".9"/>
<line x1="169" y1="1140.2" x2="167.4" y2="1195.6" stroke="#a2a2a2" stroke-width="1.8" opacity=".9"/>
<line x1="178" y1="1135.6" x2="176.4" y2="1194.8" stroke="#a2a2a2" stroke-width="1.8" opacity=".9"/>
<line x1="187" y1="1131" x2="185.4" y2="1194" stroke="#a2a2a2" stroke-width="1.8" opacity=".9"/>
<line x1="196" y1="1126.4" x2="194.4" y2="1193.2" stroke="#a2a2a2" stroke-width="1.8" opacity=".9"/>
<ellipse cx="106" cy="1160" rx="7" ry="9" fill="#a5a5a5" opacity=".7"/>
<polygon points="244,1080 370,1080 370,1160 335,1188 186,1372 142,1372 200,1230 201,1206 252.4,1128" fill="#f1f1f1"/>
<polygon points="252.4,1128 310,1137 332,1184 230,1232 200,1230 201,1206" fill="#fbfbfb"/>
<polygon points="310,1137 370,1120 370,1160 335,1188 332,1184" fill="#f6f6f6"/>
<polygon points="30,1220 198,1220 198,1230 232,1232 236,1236 218,1280 202,1300 184,1314 174,1318 158,1328 150,1342 158.4,1346.4 146,1372 30,1372" fill="#404040"/>
<path d="M28 1203 L190 1203 Q200 1205 200 1214 L198 1221 L28 1221Z" fill="#0a0a0a"/>
<polygon points="30,1221 198,1221 198,1224.4 30,1224.4" fill="#2c2c2c"/>
<polygon points="198,1229 230,1231 230,1232.4 198,1230.6" fill="#0d0d0d"/>
<polygon points="91,1254.4 106.4,1253.6 77,1315 63,1303" fill="#c2c2c2"/>
<polygon points="99,1259 106.4,1253.6 77,1315 73,1311.6" fill="#6e6e6e"/>
<polygon points="125.6,1253.6 144.4,1252.6 97,1339 83.6,1328.4" fill="#c2c2c2"/>
<polygon points="135,1258 144.4,1252.6 97,1339 93.6,1336" fill="#6e6e6e"/>
<ellipse cx="56" cy="1254.4" rx="14.4" ry="3.2" fill="#cdcdcd" transform="rotate(-3 56 1254.4)" stroke="#1c1c1c" stroke-width="1.5"/>
<ellipse cx="55" cy="1272.4" rx="9.2" ry="3" fill="#cdcdcd" transform="rotate(-5 55 1272.4)" stroke="#1c1c1c" stroke-width="1.5"/>
<ellipse cx="150" cy="1344.4" rx="4.8" ry="1.8" fill="#1c1c1c" transform="rotate(8 150 1344.4)"/>
<ellipse cx="193" cy="1274.4" rx="8.4" ry="3.4" fill="#e9e9e9" transform="rotate(-22 193 1274.4)" stroke="#222" stroke-width="1.5"/>
<ellipse cx="188" cy="1286.4" rx="12.8" ry="9.2" fill="#c9c9c9" transform="rotate(-8 188 1286.4)" stroke="#6d6d6d" stroke-width="1.2"/>
<line x1="181" y1="1288.4" x2="196" y2="1284.4" stroke="#6a6a6a" stroke-width="1.8"/>
<line x1="187" y1="1280.4" x2="190" y2="1292.4" stroke="#6a6a6a" stroke-width="1.8"/>
<ellipse cx="184" cy="1282.4" rx="6" ry="2.8" fill="#f3f3f3" transform="rotate(-10 184 1282.4)"/>
<ellipse cx="268.4" cy="1210.4" rx="39.4" ry="15.6" fill="#141414" transform="rotate(-5 268.4 1210.4)"/>
<polygon points="229.2,1214 307.6,1207 302.8,1237 273,1251 242.4,1241" fill="#141414"/>
<ellipse cx="272.6" cy="1238.6" rx="30.4" ry="14" fill="#141414" transform="rotate(-4 272.6 1238.6)"/>
<polygon points="254,1198 263,1196.4 265,1224 257,1226" fill="#3a3a3a" opacity=".8"/>
<polygon points="290,1200 296,1201 294,1226 289,1227" fill="#333" opacity=".7"/>
<ellipse cx="273" cy="1238" rx="30.4" ry="12.4" fill="#202020" transform="rotate(-4 273 1238)" stroke="#2f2f2f" stroke-width="1.5"/>
<ellipse cx="274.4" cy="1238.6" rx="19" ry="8" fill="#050505" transform="rotate(-4 274.4 1238.6)"/>
<ellipse cx="277" cy="1233.6" rx="5.6" ry="1.8" fill="#9a9a9a" transform="rotate(-4 277 1233.6)"/>
<ellipse cx="262" cy="1241" rx="2" ry="1.6" fill="#777"/>
</g>
<circle cx="189.1" cy="1223.3" r="153.5" fill="none" stroke="#e17a2b" stroke-width="6.2"/>
<g font-size="65.5" fill="#1f4a68" stroke="#1f4a68" stroke-width=".7" filter="url(#fxd)">
<text transform="translate(0 123.2) scale(0.655 1)" xml:space="preserve"><tspan x="861.8" letter-spacing="4.7">10&#34; </tspan><tspan x="979.4" letter-spacing="3.2">Desktop </tspan><tspan x="1263.5" letter-spacing="6.1">Mini </tspan><tspan x="1418.9" letter-spacing="3.7">Rack</tspan></text>
</g>
<text x="50" y="670" font-size="35" textLength="278" lengthAdjust="spacingAndGlyphs" fill="#1f4a66" stroke="#fff" stroke-width=".7" paint-order="fill stroke">Acrylic Top Panel</text>
<text x="49.5" y="703.7" font-size="25" textLength="323" lengthAdjust="spacingAndGlyphs" fill="#1f4a66" stroke="#fff" stroke-width=".35" paint-order="fill stroke">Provides additional storage</text>
<text x="50" y="737.5" font-size="25" textLength="68.6" lengthAdjust="spacingAndGlyphs" fill="#1f4a66" stroke="#fff" stroke-width=".35" paint-order="fill stroke">space</text>
<text x="73.5" y="1431.3" font-size="35" textLength="221" lengthAdjust="spacingAndGlyphs" fill="#1f4a66" stroke="#fff" stroke-width=".7" paint-order="fill stroke">Non-Slip Feet</text>
<text x="74.3" y="1465.5" font-size="25" textLength="252.6" lengthAdjust="spacingAndGlyphs" fill="#1f4a66" stroke="#fff" stroke-width=".35" paint-order="fill stroke">Enhance stability and</text>
<text x="74.5" y="1498.8" font-size="25" textLength="191" lengthAdjust="spacingAndGlyphs" fill="#1f4a66" stroke="#fff" stroke-width=".35" paint-order="fill stroke">prevent slipping</text>
<text x="1226" y="1270" font-size="35" textLength="354" lengthAdjust="spacingAndGlyphs" fill="#1f4a66" stroke="#fff" stroke-width=".7" paint-order="fill stroke">Tapped/Square Holes</text>
<text x="1227" y="1303.7" font-size="25" textLength="320" lengthAdjust="spacingAndGlyphs" fill="#1f4a66" stroke="#fff" stroke-width=".35" paint-order="fill stroke">Pre-numbered for versatile</text>
<text x="1227" y="1337.5" font-size="25" textLength="117" lengthAdjust="spacingAndGlyphs" fill="#1f4a66" stroke="#fff" stroke-width=".35" paint-order="fill stroke">mounting</text>
</g>
</svg>
</body></html>
